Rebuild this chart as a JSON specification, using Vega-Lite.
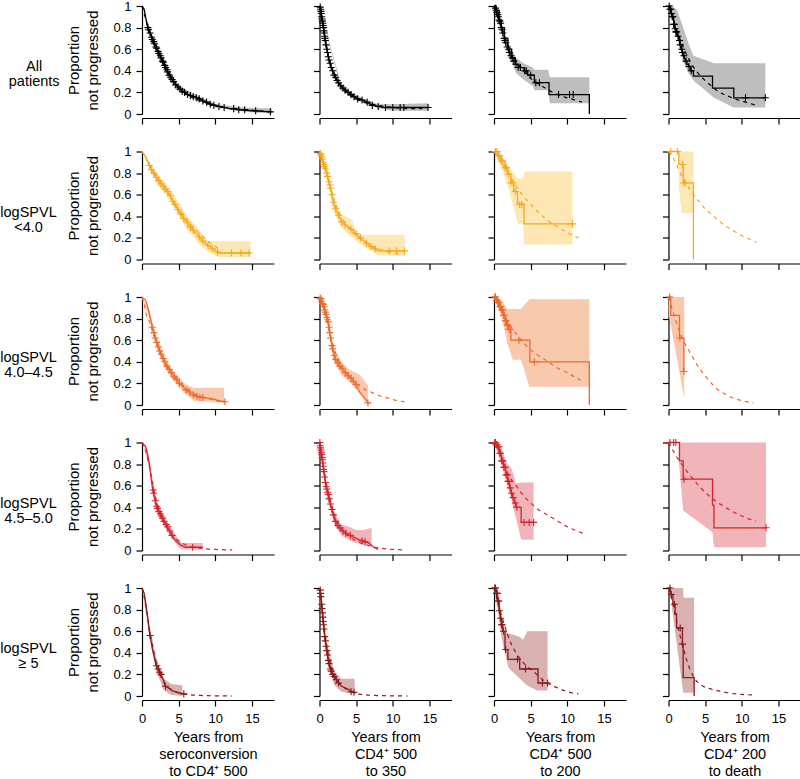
{
"$schema":"https://vega.github.io/schema/vega-lite/v6.json",
"padding":{"left":0,"top":0,"right":0,"bottom":0},
"config":{
"font":"Liberation Sans",
"view":{"stroke":null},
"axis":{"grid":false,"domainColor":"#000","tickColor":"#000","labelColor":"#000","titleColor":"#000","tickSize":6,"domainWidth":1.2,"tickWidth":1.2,"labelFontSize":13,"titleFontSize":14.5,"titleFontWeight":"normal","labelFont":"Liberation Sans","titleFont":"Liberation Sans","labelFlush":false},
"axisX":{"offset":4,"tickCount":4,"labelPadding":6,"titlePadding":5,"titleLineHeight":17},
"axisY":{"tickCount":5,"labelPadding":5,"titlePadding":12,"titleLineHeight":19,"titleFontSize":15},
"title":{"orient":"left","angle":0,"baseline":"middle","align":"center","anchor":"middle","frame":"group","offset":-18,"fontSize":14.5,"fontWeight":"normal","lineHeight":15,"color":"#000","font":"Liberation Sans"}
},
"datasets":{
"d":[
{"g":"A","p":1,"k":"k","t":0,"s":1},{"g":"A","p":1,"k":"k","t":0.3,"s":0.97},{"g":"A","p":1,"k":"k","t":0.7,"s":0.82},{"g":"A","p":1,"k":"k","t":1,"s":0.76},{"g":"A","p":1,"k":"k","t":1.5,"s":0.67},{"g":"A","p":1,"k":"k","t":2.2,"s":0.58},{"g":"A","p":1,"k":"k","t":3,"s":0.46},{"g":"A","p":1,"k":"k","t":3.7,"s":0.36},{"g":"A","p":1,"k":"k","t":4.3,"s":0.3},{"g":"A","p":1,"k":"k","t":5,"s":0.24},{"g":"A","p":1,"k":"k","t":6,"s":0.19},{"g":"A","p":1,"k":"k","t":7,"s":0.16},{"g":"A","p":1,"k":"k","t":7.8,"s":0.14},{"g":"A","p":1,"k":"k","t":9,"s":0.1},{"g":"A","p":1,"k":"k","t":10.5,"s":0.07},{"g":"A","p":1,"k":"k","t":12,"s":0.05},{"g":"A","p":1,"k":"k","t":13.2,"s":0.04},{"g":"A","p":1,"k":"k","t":15,"s":0.03},{"g":"A","p":1,"k":"k","t":17.7,"s":0.02},
{"g":"A","p":1,"k":"b","t":0,"s":1,"hi":1},{"g":"A","p":1,"k":"b","t":2,"s":0.55,"hi":0.61},{"g":"A","p":1,"k":"b","t":5,"s":0.22,"hi":0.26},{"g":"A","p":1,"k":"b","t":10,"s":0.06,"hi":0.09},{"g":"A","p":1,"k":"b","t":14,"s":0.02,"hi":0.06},{"g":"A","p":1,"k":"b","t":17.7,"s":0.005,"hi":0.05},
{"g":"A","p":1,"k":"m","t":0,"s":1},{"g":"A","p":1,"k":"m","t":0.5,"s":0.88},{"g":"A","p":1,"k":"m","t":1,"s":0.77},{"g":"A","p":1,"k":"m","t":2,"s":0.6},{"g":"A","p":1,"k":"m","t":3,"s":0.46},{"g":"A","p":1,"k":"m","t":4,"s":0.34},{"g":"A","p":1,"k":"m","t":5,"s":0.25},{"g":"A","p":1,"k":"m","t":6,"s":0.19},{"g":"A","p":1,"k":"m","t":8,"s":0.12},{"g":"A","p":1,"k":"m","t":10,"s":0.08},{"g":"A","p":1,"k":"m","t":12,"s":0.05},{"g":"A","p":1,"k":"m","t":14,"s":0.04},{"g":"A","p":1,"k":"m","t":17,"s":0.025},
{"g":"A","p":1,"k":"c","t":0.8,"s":0.8},{"g":"A","p":1,"k":"c","t":0.9,"s":0.78},{"g":"A","p":1,"k":"c","t":1.1,"s":0.75},{"g":"A","p":1,"k":"c","t":1.3,"s":0.71},{"g":"A","p":1,"k":"c","t":1.4,"s":0.69},{"g":"A","p":1,"k":"c","t":1.6,"s":0.67},{"g":"A","p":1,"k":"c","t":1.7,"s":0.65},{"g":"A","p":1,"k":"c","t":1.9,"s":0.62},{"g":"A","p":1,"k":"c","t":2,"s":0.61},{"g":"A","p":1,"k":"c","t":2.2,"s":0.58},{"g":"A","p":1,"k":"c","t":2.3,"s":0.56},{"g":"A","p":1,"k":"c","t":2.5,"s":0.54},{"g":"A","p":1,"k":"c","t":2.6,"s":0.52},{"g":"A","p":1,"k":"c","t":2.8,"s":0.49},{"g":"A","p":1,"k":"c","t":2.9,"s":0.48},{"g":"A","p":1,"k":"c","t":3.1,"s":0.45},{"g":"A","p":1,"k":"c","t":3.2,"s":0.43},{"g":"A","p":1,"k":"c","t":3.4,"s":0.41},{"g":"A","p":1,"k":"c","t":3.5,"s":0.39},{"g":"A","p":1,"k":"c","t":3.7,"s":0.36},{"g":"A","p":1,"k":"c","t":3.9,"s":0.34},{"g":"A","p":1,"k":"c","t":4.1,"s":0.32},{"g":"A","p":1,"k":"c","t":4.3,"s":0.3},{"g":"A","p":1,"k":"c","t":4.6,"s":0.27},{"g":"A","p":1,"k":"c","t":4.9,"s":0.25},{"g":"A","p":1,"k":"c","t":5.2,"s":0.23},{"g":"A","p":1,"k":"c","t":5.5,"s":0.21},{"g":"A","p":1,"k":"c","t":5.8,"s":0.2},{"g":"A","p":1,"k":"c","t":6.2,"s":0.18},{"g":"A","p":1,"k":"c","t":6.6,"s":0.17},{"g":"A","p":1,"k":"c","t":7,"s":0.16},{"g":"A","p":1,"k":"c","t":7.4,"s":0.15},{"g":"A","p":1,"k":"c","t":7.8,"s":0.14},{"g":"A","p":1,"k":"c","t":8.3,"s":0.12},{"g":"A","p":1,"k":"c","t":8.8,"s":0.11},{"g":"A","p":1,"k":"c","t":9.3,"s":0.09},{"g":"A","p":1,"k":"c","t":9.8,"s":0.08},{"g":"A","p":1,"k":"c","t":10.5,"s":0.07},{"g":"A","p":1,"k":"c","t":11.2,"s":0.06},{"g":"A","p":1,"k":"c","t":12.5,"s":0.05},{"g":"A","p":1,"k":"c","t":13.2,"s":0.04},{"g":"A","p":1,"k":"c","t":14,"s":0.04},{"g":"A","p":1,"k":"c","t":15.5,"s":0.03},{"g":"A","p":1,"k":"c","t":17.5,"s":0.02},

{"g":"A","p":2,"k":"k","t":0,"s":1},{"g":"A","p":2,"k":"k","t":0.2,"s":0.95},{"g":"A","p":2,"k":"k","t":0.5,"s":0.82},{"g":"A","p":2,"k":"k","t":0.8,"s":0.68},{"g":"A","p":2,"k":"k","t":1,"s":0.6},{"g":"A","p":2,"k":"k","t":1.3,"s":0.5},{"g":"A","p":2,"k":"k","t":1.6,"s":0.43},{"g":"A","p":2,"k":"k","t":2.1,"s":0.35},{"g":"A","p":2,"k":"k","t":2.6,"s":0.29},{"g":"A","p":2,"k":"k","t":3.2,"s":0.24},{"g":"A","p":2,"k":"k","t":3.9,"s":0.2},{"g":"A","p":2,"k":"k","t":5,"s":0.15},{"g":"A","p":2,"k":"k","t":6.2,"s":0.12},{"g":"A","p":2,"k":"k","t":7,"s":0.09},{"g":"A","p":2,"k":"k","t":8,"s":0.07},{"g":"A","p":2,"k":"k","t":9,"s":0.06},{"g":"A","p":2,"k":"k","t":14.8,"s":0.06},
{"g":"A","p":2,"k":"b","t":0,"s":1,"hi":1},{"g":"A","p":2,"k":"b","t":3,"s":0.22,"hi":0.26},{"g":"A","p":2,"k":"b","t":6,"s":0.1,"hi":0.14},{"g":"A","p":2,"k":"b","t":8,"s":0.05,"hi":0.09},{"g":"A","p":2,"k":"b","t":10,"s":0.03,"hi":0.09},{"g":"A","p":2,"k":"b","t":14.8,"s":0.03,"hi":0.1},
{"g":"A","p":2,"k":"m","t":0,"s":1},{"g":"A","p":2,"k":"m","t":0.5,"s":0.8},{"g":"A","p":2,"k":"m","t":1,"s":0.6},{"g":"A","p":2,"k":"m","t":1.5,"s":0.46},{"g":"A","p":2,"k":"m","t":2,"s":0.37},{"g":"A","p":2,"k":"m","t":3,"s":0.25},{"g":"A","p":2,"k":"m","t":4,"s":0.18},{"g":"A","p":2,"k":"m","t":5,"s":0.14},{"g":"A","p":2,"k":"m","t":6,"s":0.11},{"g":"A","p":2,"k":"m","t":8,"s":0.08},{"g":"A","p":2,"k":"m","t":10,"s":0.06},{"g":"A","p":2,"k":"m","t":12,"s":0.05},{"g":"A","p":2,"k":"m","t":14,"s":0.05},
{"g":"A","p":2,"k":"c","t":0.1,"s":0.99},{"g":"A","p":2,"k":"c","t":0.15,"s":0.97},{"g":"A","p":2,"k":"c","t":0.2,"s":0.95},{"g":"A","p":2,"k":"c","t":0.25,"s":0.93},{"g":"A","p":2,"k":"c","t":0.3,"s":0.9},{"g":"A","p":2,"k":"c","t":0.35,"s":0.88},{"g":"A","p":2,"k":"c","t":0.4,"s":0.86},{"g":"A","p":2,"k":"c","t":0.45,"s":0.84},{"g":"A","p":2,"k":"c","t":0.5,"s":0.82},{"g":"A","p":2,"k":"c","t":0.55,"s":0.8},{"g":"A","p":2,"k":"c","t":0.6,"s":0.77},{"g":"A","p":2,"k":"c","t":0.65,"s":0.75},{"g":"A","p":2,"k":"c","t":0.7,"s":0.72},{"g":"A","p":2,"k":"c","t":0.75,"s":0.7},{"g":"A","p":2,"k":"c","t":0.8,"s":0.68},{"g":"A","p":2,"k":"c","t":0.9,"s":0.64},{"g":"A","p":2,"k":"c","t":1,"s":0.6},{"g":"A","p":2,"k":"c","t":1.1,"s":0.57},{"g":"A","p":2,"k":"c","t":1.2,"s":0.53},{"g":"A","p":2,"k":"c","t":1.3,"s":0.5},{"g":"A","p":2,"k":"c","t":1.45,"s":0.47},{"g":"A","p":2,"k":"c","t":1.6,"s":0.43},{"g":"A","p":2,"k":"c","t":1.8,"s":0.4},{"g":"A","p":2,"k":"c","t":2,"s":0.36},{"g":"A","p":2,"k":"c","t":2.2,"s":0.34},{"g":"A","p":2,"k":"c","t":2.4,"s":0.31},{"g":"A","p":2,"k":"c","t":2.6,"s":0.29},{"g":"A","p":2,"k":"c","t":2.9,"s":0.26},{"g":"A","p":2,"k":"c","t":3.2,"s":0.24},{"g":"A","p":2,"k":"c","t":3.5,"s":0.22},{"g":"A","p":2,"k":"c","t":3.9,"s":0.2},{"g":"A","p":2,"k":"c","t":4.3,"s":0.18},{"g":"A","p":2,"k":"c","t":4.7,"s":0.16},{"g":"A","p":2,"k":"c","t":5.2,"s":0.14},{"g":"A","p":2,"k":"c","t":5.8,"s":0.13},{"g":"A","p":2,"k":"c","t":6.5,"s":0.11},{"g":"A","p":2,"k":"c","t":7.2,"s":0.08},{"g":"A","p":2,"k":"c","t":8,"s":0.07},{"g":"A","p":2,"k":"c","t":9,"s":0.06},{"g":"A","p":2,"k":"c","t":10,"s":0.06},{"g":"A","p":2,"k":"c","t":11,"s":0.06},{"g":"A","p":2,"k":"c","t":11.5,"s":0.06},{"g":"A","p":2,"k":"c","t":14.8,"s":0.06},

{"g":"A","p":3,"k":"k","t":0,"s":1},{"g":"A","p":3,"k":"k","t":0.3,"s":0.96},{"g":"A","p":3,"k":"k","t":0.7,"s":0.87},{"g":"A","p":3,"k":"k","t":1,"s":0.8},{"g":"A","p":3,"k":"k","t":1.4,"s":0.7},{"g":"A","p":3,"k":"k","t":1.9,"s":0.6},{"g":"A","p":3,"k":"k","t":2.4,"s":0.52},{"g":"A","p":3,"k":"k","t":2.9,"s":0.46},{"g":"A","p":3,"k":"k","t":3.3,"s":0.43},{"g":"A","p":3,"k":"k","t":4.1,"s":0.4},{"g":"A","p":3,"k":"k","t":4.6,"s":0.36},{"g":"A","p":3,"k":"k","t":5.5,"s":0.29},{"g":"A","p":3,"k":"k","t":7.5,"s":0.18},{"g":"A","p":3,"k":"k","t":13,"s":0},
{"g":"A","p":3,"k":"b","t":0,"s":1,"hi":1},{"g":"A","p":3,"k":"b","t":1,"s":0.76,"hi":0.84},{"g":"A","p":3,"k":"b","t":2,"s":0.54,"hi":0.65},{"g":"A","p":3,"k":"b","t":3,"s":0.38,"hi":0.52},{"g":"A","p":3,"k":"b","t":4,"s":0.32,"hi":0.47},{"g":"A","p":3,"k":"b","t":5.3,"s":0.26,"hi":0.43},{"g":"A","p":3,"k":"b","t":5.5,"s":0.22,"hi":0.41},{"g":"A","p":3,"k":"b","t":7.4,"s":0.22,"hi":0.41},{"g":"A","p":3,"k":"b","t":7.6,"s":0.1,"hi":0.34},{"g":"A","p":3,"k":"b","t":13,"s":0.1,"hi":0.34},
{"g":"A","p":3,"k":"m","t":0,"s":1},{"g":"A","p":3,"k":"m","t":1,"s":0.8},{"g":"A","p":3,"k":"m","t":2,"s":0.62},{"g":"A","p":3,"k":"m","t":3,"s":0.49},{"g":"A","p":3,"k":"m","t":4,"s":0.4},{"g":"A","p":3,"k":"m","t":5,"s":0.33},{"g":"A","p":3,"k":"m","t":6,"s":0.28},{"g":"A","p":3,"k":"m","t":7,"s":0.24},{"g":"A","p":3,"k":"m","t":8,"s":0.2},{"g":"A","p":3,"k":"m","t":9,"s":0.17},{"g":"A","p":3,"k":"m","t":10,"s":0.15},{"g":"A","p":3,"k":"m","t":11,"s":0.13},{"g":"A","p":3,"k":"m","t":12,"s":0.11},
{"g":"A","p":3,"k":"c","t":0.2,"s":0.98},{"g":"A","p":3,"k":"c","t":0.3,"s":0.96},{"g":"A","p":3,"k":"c","t":0.4,"s":0.94},{"g":"A","p":3,"k":"c","t":0.5,"s":0.92},{"g":"A","p":3,"k":"c","t":0.6,"s":0.9},{"g":"A","p":3,"k":"c","t":0.7,"s":0.87},{"g":"A","p":3,"k":"c","t":0.8,"s":0.86},{"g":"A","p":3,"k":"c","t":0.9,"s":0.84},{"g":"A","p":3,"k":"c","t":1,"s":0.8},{"g":"A","p":3,"k":"c","t":1.1,"s":0.78},{"g":"A","p":3,"k":"c","t":1.2,"s":0.75},{"g":"A","p":3,"k":"c","t":1.4,"s":0.7},{"g":"A","p":3,"k":"c","t":1.5,"s":0.68},{"g":"A","p":3,"k":"c","t":1.6,"s":0.66},{"g":"A","p":3,"k":"c","t":1.8,"s":0.62},{"g":"A","p":3,"k":"c","t":2,"s":0.6},{"g":"A","p":3,"k":"c","t":2.1,"s":0.57},{"g":"A","p":3,"k":"c","t":2.3,"s":0.54},{"g":"A","p":3,"k":"c","t":2.5,"s":0.52},{"g":"A","p":3,"k":"c","t":2.7,"s":0.49},{"g":"A","p":3,"k":"c","t":3,"s":0.46},{"g":"A","p":3,"k":"c","t":3.3,"s":0.43},{"g":"A","p":3,"k":"c","t":3.6,"s":0.43},{"g":"A","p":3,"k":"c","t":4.2,"s":0.4},{"g":"A","p":3,"k":"c","t":4.4,"s":0.4},{"g":"A","p":3,"k":"c","t":5,"s":0.36},{"g":"A","p":3,"k":"c","t":5.7,"s":0.29},{"g":"A","p":3,"k":"c","t":6.2,"s":0.29},{"g":"A","p":3,"k":"c","t":8.8,"s":0.18},{"g":"A","p":3,"k":"c","t":10.3,"s":0.18},{"g":"A","p":3,"k":"c","t":10.8,"s":0.18},

{"g":"A","p":4,"k":"k","t":0,"s":1},{"g":"A","p":4,"k":"k","t":0.2,"s":0.97},{"g":"A","p":4,"k":"k","t":0.4,"s":0.93},{"g":"A","p":4,"k":"k","t":0.5,"s":0.9},{"g":"A","p":4,"k":"k","t":0.7,"s":0.83},{"g":"A","p":4,"k":"k","t":0.85,"s":0.79},{"g":"A","p":4,"k":"k","t":1,"s":0.76},{"g":"A","p":4,"k":"k","t":1.2,"s":0.72},{"g":"A","p":4,"k":"k","t":1.4,"s":0.68},{"g":"A","p":4,"k":"k","t":1.55,"s":0.64},{"g":"A","p":4,"k":"k","t":1.7,"s":0.6},{"g":"A","p":4,"k":"k","t":1.85,"s":0.57},{"g":"A","p":4,"k":"k","t":2,"s":0.54},{"g":"A","p":4,"k":"k","t":2.15,"s":0.51},{"g":"A","p":4,"k":"k","t":2.3,"s":0.49},{"g":"A","p":4,"k":"k","t":2.5,"s":0.46},{"g":"A","p":4,"k":"k","t":2.7,"s":0.44},{"g":"A","p":4,"k":"k","t":3,"s":0.4},{"g":"A","p":4,"k":"k","t":3.4,"s":0.35},{"g":"A","p":4,"k":"k","t":6,"s":0.24},{"g":"A","p":4,"k":"k","t":8.9,"s":0.15},{"g":"A","p":4,"k":"k","t":13.2,"s":0.15},
{"g":"A","p":4,"k":"b","t":0,"s":1,"hi":1},{"g":"A","p":4,"k":"b","t":0.5,"s":0.88,"hi":1},{"g":"A","p":4,"k":"b","t":1.2,"s":0.72,"hi":0.96},{"g":"A","p":4,"k":"b","t":2,"s":0.48,"hi":0.8},{"g":"A","p":4,"k":"b","t":2.8,"s":0.37,"hi":0.64},{"g":"A","p":4,"k":"b","t":3.4,"s":0.31,"hi":0.54},{"g":"A","p":4,"k":"b","t":6.2,"s":0.15,"hi":0.47},{"g":"A","p":4,"k":"b","t":8.9,"s":0.06,"hi":0.47},{"g":"A","p":4,"k":"b","t":13.2,"s":0.06,"hi":0.47},
{"g":"A","p":4,"k":"m","t":0,"s":1},{"g":"A","p":4,"k":"m","t":1,"s":0.8},{"g":"A","p":4,"k":"m","t":2,"s":0.62},{"g":"A","p":4,"k":"m","t":3,"s":0.48},{"g":"A","p":4,"k":"m","t":4,"s":0.38},{"g":"A","p":4,"k":"m","t":5,"s":0.31},{"g":"A","p":4,"k":"m","t":6,"s":0.25},{"g":"A","p":4,"k":"m","t":7,"s":0.2},{"g":"A","p":4,"k":"m","t":8,"s":0.17},{"g":"A","p":4,"k":"m","t":9,"s":0.14},{"g":"A","p":4,"k":"m","t":10,"s":0.12},{"g":"A","p":4,"k":"m","t":11,"s":0.1},{"g":"A","p":4,"k":"m","t":12,"s":0.08},
{"g":"A","p":4,"k":"c","t":0.1,"s":1},{"g":"A","p":4,"k":"c","t":0.2,"s":0.97},{"g":"A","p":4,"k":"c","t":0.3,"s":0.97},{"g":"A","p":4,"k":"c","t":0.4,"s":0.93},{"g":"A","p":4,"k":"c","t":0.5,"s":0.9},{"g":"A","p":4,"k":"c","t":0.6,"s":0.9},{"g":"A","p":4,"k":"c","t":0.7,"s":0.83},{"g":"A","p":4,"k":"c","t":0.8,"s":0.83},{"g":"A","p":4,"k":"c","t":0.9,"s":0.79},{"g":"A","p":4,"k":"c","t":1,"s":0.76},{"g":"A","p":4,"k":"c","t":1.1,"s":0.76},{"g":"A","p":4,"k":"c","t":1.3,"s":0.72},{"g":"A","p":4,"k":"c","t":1.5,"s":0.68},{"g":"A","p":4,"k":"c","t":1.6,"s":0.64},{"g":"A","p":4,"k":"c","t":1.8,"s":0.6},{"g":"A","p":4,"k":"c","t":1.9,"s":0.57},{"g":"A","p":4,"k":"c","t":2.1,"s":0.54},{"g":"A","p":4,"k":"c","t":2.4,"s":0.49},{"g":"A","p":4,"k":"c","t":2.8,"s":0.44},{"g":"A","p":4,"k":"c","t":3.1,"s":0.4},{"g":"A","p":4,"k":"c","t":10.5,"s":0.15},{"g":"A","p":4,"k":"c","t":13.2,"s":0.15},

{"g":"B","p":1,"k":"k","t":0,"s":1},{"g":"B","p":1,"k":"k","t":0.5,"s":0.95},{"g":"B","p":1,"k":"k","t":1,"s":0.87},{"g":"B","p":1,"k":"k","t":1.5,"s":0.81},{"g":"B","p":1,"k":"k","t":2.3,"s":0.73},{"g":"B","p":1,"k":"k","t":3,"s":0.67},{"g":"B","p":1,"k":"k","t":3.7,"s":0.61},{"g":"B","p":1,"k":"k","t":4.3,"s":0.53},{"g":"B","p":1,"k":"k","t":5,"s":0.45},{"g":"B","p":1,"k":"k","t":5.7,"s":0.38},{"g":"B","p":1,"k":"k","t":6.4,"s":0.32},{"g":"B","p":1,"k":"k","t":7.1,"s":0.26},{"g":"B","p":1,"k":"k","t":7.8,"s":0.21},{"g":"B","p":1,"k":"k","t":8.5,"s":0.16},{"g":"B","p":1,"k":"k","t":9.1,"s":0.13},{"g":"B","p":1,"k":"k","t":9.8,"s":0.09},{"g":"B","p":1,"k":"k","t":10.5,"s":0.06},{"g":"B","p":1,"k":"k","t":14.8,"s":0.06},
{"g":"B","p":1,"k":"b","t":0,"s":1,"hi":1},{"g":"B","p":1,"k":"b","t":2,"s":0.7,"hi":0.8},{"g":"B","p":1,"k":"b","t":4,"s":0.53,"hi":0.64},{"g":"B","p":1,"k":"b","t":6,"s":0.29,"hi":0.42},{"g":"B","p":1,"k":"b","t":8,"s":0.13,"hi":0.26},{"g":"B","p":1,"k":"b","t":8.5,"s":0.1,"hi":0.2},{"g":"B","p":1,"k":"b","t":9,"s":0.07,"hi":0.17},{"g":"B","p":1,"k":"b","t":10.5,"s":0.02,"hi":0.17},{"g":"B","p":1,"k":"b","t":14.8,"s":0.02,"hi":0.17},
{"g":"B","p":1,"k":"m","t":0,"s":1},{"g":"B","p":1,"k":"m","t":1,"s":0.88},{"g":"B","p":1,"k":"m","t":2,"s":0.77},{"g":"B","p":1,"k":"m","t":3,"s":0.67},{"g":"B","p":1,"k":"m","t":4,"s":0.57},{"g":"B","p":1,"k":"m","t":5,"s":0.47},{"g":"B","p":1,"k":"m","t":6,"s":0.38},{"g":"B","p":1,"k":"m","t":7,"s":0.3},{"g":"B","p":1,"k":"m","t":8,"s":0.23},{"g":"B","p":1,"k":"m","t":9,"s":0.17},{"g":"B","p":1,"k":"m","t":10,"s":0.12},{"g":"B","p":1,"k":"m","t":11,"s":0.09},
{"g":"B","p":1,"k":"c","t":1,"s":0.87},{"g":"B","p":1,"k":"c","t":1.3,"s":0.83},{"g":"B","p":1,"k":"c","t":1.6,"s":0.8},{"g":"B","p":1,"k":"c","t":2,"s":0.76},{"g":"B","p":1,"k":"c","t":2.3,"s":0.73},{"g":"B","p":1,"k":"c","t":2.6,"s":0.7},{"g":"B","p":1,"k":"c","t":2.9,"s":0.68},{"g":"B","p":1,"k":"c","t":3.2,"s":0.65},{"g":"B","p":1,"k":"c","t":3.5,"s":0.63},{"g":"B","p":1,"k":"c","t":3.9,"s":0.59},{"g":"B","p":1,"k":"c","t":4.2,"s":0.54},{"g":"B","p":1,"k":"c","t":4.5,"s":0.51},{"g":"B","p":1,"k":"c","t":4.9,"s":0.46},{"g":"B","p":1,"k":"c","t":5.3,"s":0.42},{"g":"B","p":1,"k":"c","t":5.7,"s":0.38},{"g":"B","p":1,"k":"c","t":6.2,"s":0.34},{"g":"B","p":1,"k":"c","t":6.6,"s":0.3},{"g":"B","p":1,"k":"c","t":7,"s":0.27},{"g":"B","p":1,"k":"c","t":7.8,"s":0.21},{"g":"B","p":1,"k":"c","t":8.3,"s":0.17},{"g":"B","p":1,"k":"c","t":9,"s":0.13},{"g":"B","p":1,"k":"c","t":9.6,"s":0.1},{"g":"B","p":1,"k":"c","t":10.3,"s":0.07},{"g":"B","p":1,"k":"c","t":12.2,"s":0.06},{"g":"B","p":1,"k":"c","t":13.5,"s":0.06},{"g":"B","p":1,"k":"c","t":14.6,"s":0.06},

{"g":"B","p":2,"k":"k","t":0,"s":1},{"g":"B","p":2,"k":"k","t":0.3,"s":0.95},{"g":"B","p":2,"k":"k","t":0.6,"s":0.88},{"g":"B","p":2,"k":"k","t":1,"s":0.8},{"g":"B","p":2,"k":"k","t":1.3,"s":0.72},{"g":"B","p":2,"k":"k","t":1.6,"s":0.63},{"g":"B","p":2,"k":"k","t":2,"s":0.5},{"g":"B","p":2,"k":"k","t":2.5,"s":0.42},{"g":"B","p":2,"k":"k","t":3,"s":0.35},{"g":"B","p":2,"k":"k","t":3.7,"s":0.31},{"g":"B","p":2,"k":"k","t":4.4,"s":0.28},{"g":"B","p":2,"k":"k","t":5,"s":0.24},{"g":"B","p":2,"k":"k","t":5.7,"s":0.19},{"g":"B","p":2,"k":"k","t":6.5,"s":0.15},{"g":"B","p":2,"k":"k","t":7.2,"s":0.11},{"g":"B","p":2,"k":"k","t":8,"s":0.08},{"g":"B","p":2,"k":"k","t":11.6,"s":0.08},
{"g":"B","p":2,"k":"b","t":0,"s":1,"hi":1},{"g":"B","p":2,"k":"b","t":1,"s":0.76,"hi":0.86},{"g":"B","p":2,"k":"b","t":2,"s":0.43,"hi":0.56},{"g":"B","p":2,"k":"b","t":3,"s":0.29,"hi":0.42},{"g":"B","p":2,"k":"b","t":4.5,"s":0.2,"hi":0.36},{"g":"B","p":2,"k":"b","t":5,"s":0.17,"hi":0.23},{"g":"B","p":2,"k":"b","t":8,"s":0.04,"hi":0.23},{"g":"B","p":2,"k":"b","t":11.6,"s":0.03,"hi":0.23},
{"g":"B","p":2,"k":"m","t":0,"s":1},{"g":"B","p":2,"k":"m","t":0.5,"s":0.9},{"g":"B","p":2,"k":"m","t":1,"s":0.78},{"g":"B","p":2,"k":"m","t":1.5,"s":0.66},{"g":"B","p":2,"k":"m","t":2,"s":0.55},{"g":"B","p":2,"k":"m","t":2.5,"s":0.46},{"g":"B","p":2,"k":"m","t":3,"s":0.39},{"g":"B","p":2,"k":"m","t":4,"s":0.29},{"g":"B","p":2,"k":"m","t":5,"s":0.22},{"g":"B","p":2,"k":"m","t":6,"s":0.17},{"g":"B","p":2,"k":"m","t":7,"s":0.13},{"g":"B","p":2,"k":"m","t":8,"s":0.1},{"g":"B","p":2,"k":"m","t":9,"s":0.08},{"g":"B","p":2,"k":"m","t":10,"s":0.06},{"g":"B","p":2,"k":"m","t":11,"s":0.05},
{"g":"B","p":2,"k":"c","t":0.1,"s":0.98},{"g":"B","p":2,"k":"c","t":0.2,"s":0.97},{"g":"B","p":2,"k":"c","t":0.3,"s":0.95},{"g":"B","p":2,"k":"c","t":0.4,"s":0.93},{"g":"B","p":2,"k":"c","t":0.5,"s":0.9},{"g":"B","p":2,"k":"c","t":0.6,"s":0.88},{"g":"B","p":2,"k":"c","t":0.7,"s":0.86},{"g":"B","p":2,"k":"c","t":0.8,"s":0.84},{"g":"B","p":2,"k":"c","t":1,"s":0.8},{"g":"B","p":2,"k":"c","t":1.1,"s":0.77},{"g":"B","p":2,"k":"c","t":1.3,"s":0.72},{"g":"B","p":2,"k":"c","t":1.4,"s":0.69},{"g":"B","p":2,"k":"c","t":1.5,"s":0.66},{"g":"B","p":2,"k":"c","t":1.7,"s":0.6},{"g":"B","p":2,"k":"c","t":1.9,"s":0.53},{"g":"B","p":2,"k":"c","t":2.2,"s":0.47},{"g":"B","p":2,"k":"c","t":2.6,"s":0.41},{"g":"B","p":2,"k":"c","t":3,"s":0.35},{"g":"B","p":2,"k":"c","t":3.5,"s":0.32},{"g":"B","p":2,"k":"c","t":4.3,"s":0.28},{"g":"B","p":2,"k":"c","t":5,"s":0.24},{"g":"B","p":2,"k":"c","t":5.6,"s":0.2},{"g":"B","p":2,"k":"c","t":6.4,"s":0.15},{"g":"B","p":2,"k":"c","t":7,"s":0.12},{"g":"B","p":2,"k":"c","t":7.6,"s":0.1},{"g":"B","p":2,"k":"c","t":9.5,"s":0.08},{"g":"B","p":2,"k":"c","t":10.5,"s":0.08},{"g":"B","p":2,"k":"c","t":11.6,"s":0.08},

{"g":"B","p":3,"k":"k","t":0,"s":1},{"g":"B","p":3,"k":"k","t":0.5,"s":0.96},{"g":"B","p":3,"k":"k","t":1,"s":0.91},{"g":"B","p":3,"k":"k","t":1.5,"s":0.85},{"g":"B","p":3,"k":"k","t":1.9,"s":0.79},{"g":"B","p":3,"k":"k","t":2.3,"s":0.71},{"g":"B","p":3,"k":"k","t":2.7,"s":0.63},{"g":"B","p":3,"k":"k","t":3.2,"s":0.51},{"g":"B","p":3,"k":"k","t":4.1,"s":0.33},{"g":"B","p":3,"k":"k","t":10.7,"s":0.33},
{"g":"B","p":3,"k":"b","t":0,"s":1,"hi":1},{"g":"B","p":3,"k":"b","t":1,"s":0.85,"hi":0.97},{"g":"B","p":3,"k":"b","t":2,"s":0.65,"hi":0.86},{"g":"B","p":3,"k":"b","t":3,"s":0.4,"hi":0.77},{"g":"B","p":3,"k":"b","t":3.2,"s":0.33,"hi":0.75},{"g":"B","p":3,"k":"b","t":4,"s":0.33,"hi":0.75},{"g":"B","p":3,"k":"b","t":4.1,"s":0.14,"hi":0.815},{"g":"B","p":3,"k":"b","t":10.7,"s":0.14,"hi":0.815},
{"g":"B","p":3,"k":"m","t":0,"s":1},{"g":"B","p":3,"k":"m","t":1,"s":0.9},{"g":"B","p":3,"k":"m","t":2,"s":0.79},{"g":"B","p":3,"k":"m","t":3,"s":0.68},{"g":"B","p":3,"k":"m","t":4,"s":0.59},{"g":"B","p":3,"k":"m","t":5,"s":0.51},{"g":"B","p":3,"k":"m","t":6,"s":0.44},{"g":"B","p":3,"k":"m","t":7,"s":0.38},{"g":"B","p":3,"k":"m","t":8,"s":0.33},{"g":"B","p":3,"k":"m","t":9,"s":0.29},{"g":"B","p":3,"k":"m","t":10,"s":0.25},{"g":"B","p":3,"k":"m","t":11.5,"s":0.2},
{"g":"B","p":3,"k":"c","t":0.2,"s":1},{"g":"B","p":3,"k":"c","t":0.4,"s":1},{"g":"B","p":3,"k":"c","t":0.6,"s":0.96},{"g":"B","p":3,"k":"c","t":0.8,"s":0.96},{"g":"B","p":3,"k":"c","t":1,"s":0.91},{"g":"B","p":3,"k":"c","t":1.2,"s":0.91},{"g":"B","p":3,"k":"c","t":1.5,"s":0.85},{"g":"B","p":3,"k":"c","t":1.7,"s":0.85},{"g":"B","p":3,"k":"c","t":2,"s":0.79},{"g":"B","p":3,"k":"c","t":2.3,"s":0.71},{"g":"B","p":3,"k":"c","t":2.6,"s":0.71},{"g":"B","p":3,"k":"c","t":2.9,"s":0.63},{"g":"B","p":3,"k":"c","t":3.5,"s":0.51},{"g":"B","p":3,"k":"c","t":3.8,"s":0.51},{"g":"B","p":3,"k":"c","t":10.7,"s":0.33},

{"g":"B","p":4,"k":"k","t":0,"s":1},{"g":"B","p":4,"k":"k","t":1.4,"s":0.88},{"g":"B","p":4,"k":"k","t":2,"s":0.71},{"g":"B","p":4,"k":"k","t":3.4,"s":0},
{"g":"B","p":4,"k":"b","t":1.4,"s":0.69,"hi":1},{"g":"B","p":4,"k":"b","t":1.8,"s":0.43,"hi":1},{"g":"B","p":4,"k":"b","t":3.4,"s":0.43,"hi":1},
{"g":"B","p":4,"k":"m","t":0,"s":1},{"g":"B","p":4,"k":"m","t":0.5,"s":0.96},{"g":"B","p":4,"k":"m","t":1,"s":0.89},{"g":"B","p":4,"k":"m","t":2,"s":0.75},{"g":"B","p":4,"k":"m","t":3,"s":0.64},{"g":"B","p":4,"k":"m","t":4,"s":0.55},{"g":"B","p":4,"k":"m","t":5,"s":0.47},{"g":"B","p":4,"k":"m","t":6,"s":0.41},{"g":"B","p":4,"k":"m","t":7,"s":0.35},{"g":"B","p":4,"k":"m","t":8,"s":0.3},{"g":"B","p":4,"k":"m","t":9,"s":0.26},{"g":"B","p":4,"k":"m","t":10,"s":0.22},{"g":"B","p":4,"k":"m","t":11,"s":0.19},{"g":"B","p":4,"k":"m","t":12,"s":0.16},
{"g":"B","p":4,"k":"c","t":0.3,"s":1},{"g":"B","p":4,"k":"c","t":1.2,"s":1},{"g":"B","p":4,"k":"c","t":1.9,"s":0.88},{"g":"B","p":4,"k":"c","t":2.1,"s":0.71},{"g":"B","p":4,"k":"c","t":2.3,"s":0.71},

{"g":"C","p":1,"k":"k","t":0,"s":1},{"g":"C","p":1,"k":"k","t":0.5,"s":0.97},{"g":"C","p":1,"k":"k","t":1,"s":0.85},{"g":"C","p":1,"k":"k","t":1.4,"s":0.72},{"g":"C","p":1,"k":"k","t":1.9,"s":0.6},{"g":"C","p":1,"k":"k","t":2.3,"s":0.52},{"g":"C","p":1,"k":"k","t":2.8,"s":0.44},{"g":"C","p":1,"k":"k","t":3.2,"s":0.38},{"g":"C","p":1,"k":"k","t":3.8,"s":0.32},{"g":"C","p":1,"k":"k","t":4.4,"s":0.26},{"g":"C","p":1,"k":"k","t":5,"s":0.21},{"g":"C","p":1,"k":"k","t":5.7,"s":0.16},{"g":"C","p":1,"k":"k","t":6.4,"s":0.12},{"g":"C","p":1,"k":"k","t":7.1,"s":0.09},{"g":"C","p":1,"k":"k","t":7.8,"s":0.07},{"g":"C","p":1,"k":"k","t":9.5,"s":0.06},{"g":"C","p":1,"k":"k","t":10.5,"s":0.04},{"g":"C","p":1,"k":"k","t":11.4,"s":0.03},
{"g":"C","p":1,"k":"b","t":0,"s":1,"hi":1},{"g":"C","p":1,"k":"b","t":1,"s":0.8,"hi":0.87},{"g":"C","p":1,"k":"b","t":2,"s":0.54,"hi":0.63},{"g":"C","p":1,"k":"b","t":3,"s":0.36,"hi":0.46},{"g":"C","p":1,"k":"b","t":4,"s":0.25,"hi":0.34},{"g":"C","p":1,"k":"b","t":5,"s":0.17,"hi":0.26},{"g":"C","p":1,"k":"b","t":6,"s":0.1,"hi":0.19},{"g":"C","p":1,"k":"b","t":7,"s":0.04,"hi":0.16},{"g":"C","p":1,"k":"b","t":11.2,"s":0.02,"hi":0.16},
{"g":"C","p":1,"k":"m","t":0,"s":1},{"g":"C","p":1,"k":"m","t":0.3,"s":0.93},{"g":"C","p":1,"k":"m","t":0.5,"s":0.86},{"g":"C","p":1,"k":"m","t":1,"s":0.77},{"g":"C","p":1,"k":"m","t":1.5,"s":0.67},{"g":"C","p":1,"k":"m","t":2,"s":0.57},{"g":"C","p":1,"k":"m","t":2.5,"s":0.48},{"g":"C","p":1,"k":"m","t":3,"s":0.41},{"g":"C","p":1,"k":"m","t":4,"s":0.3},{"g":"C","p":1,"k":"m","t":5,"s":0.22},{"g":"C","p":1,"k":"m","t":6,"s":0.16},{"g":"C","p":1,"k":"m","t":7,"s":0.11},{"g":"C","p":1,"k":"m","t":8,"s":0.08},{"g":"C","p":1,"k":"m","t":9,"s":0.06},{"g":"C","p":1,"k":"m","t":10,"s":0.04},{"g":"C","p":1,"k":"m","t":11,"s":0.03},
{"g":"C","p":1,"k":"c","t":1.4,"s":0.72},{"g":"C","p":1,"k":"c","t":1.6,"s":0.67},{"g":"C","p":1,"k":"c","t":1.8,"s":0.62},{"g":"C","p":1,"k":"c","t":2,"s":0.58},{"g":"C","p":1,"k":"c","t":2.2,"s":0.54},{"g":"C","p":1,"k":"c","t":2.4,"s":0.5},{"g":"C","p":1,"k":"c","t":2.6,"s":0.47},{"g":"C","p":1,"k":"c","t":2.9,"s":0.43},{"g":"C","p":1,"k":"c","t":3.1,"s":0.4},{"g":"C","p":1,"k":"c","t":3.4,"s":0.36},{"g":"C","p":1,"k":"c","t":3.7,"s":0.33},{"g":"C","p":1,"k":"c","t":4,"s":0.3},{"g":"C","p":1,"k":"c","t":4.4,"s":0.26},{"g":"C","p":1,"k":"c","t":4.7,"s":0.24},{"g":"C","p":1,"k":"c","t":5.1,"s":0.2},{"g":"C","p":1,"k":"c","t":6,"s":0.14},{"g":"C","p":1,"k":"c","t":6.5,"s":0.12},{"g":"C","p":1,"k":"c","t":7,"s":0.09},{"g":"C","p":1,"k":"c","t":7.5,"s":0.08},{"g":"C","p":1,"k":"c","t":7.9,"s":0.07},{"g":"C","p":1,"k":"c","t":8.3,"s":0.07},{"g":"C","p":1,"k":"c","t":11.3,"s":0.03},

{"g":"C","p":2,"k":"k","t":0,"s":1},{"g":"C","p":2,"k":"k","t":0.5,"s":0.93},{"g":"C","p":2,"k":"k","t":0.8,"s":0.86},{"g":"C","p":2,"k":"k","t":1.2,"s":0.77},{"g":"C","p":2,"k":"k","t":1.6,"s":0.58},{"g":"C","p":2,"k":"k","t":2.1,"s":0.43},{"g":"C","p":2,"k":"k","t":2.7,"s":0.36},{"g":"C","p":2,"k":"k","t":3.4,"s":0.31},{"g":"C","p":2,"k":"k","t":4.1,"s":0.26},{"g":"C","p":2,"k":"k","t":4.8,"s":0.21},{"g":"C","p":2,"k":"k","t":5.5,"s":0.12},{"g":"C","p":2,"k":"k","t":6.2,"s":0.06},{"g":"C","p":2,"k":"k","t":6.7,"s":0.01},
{"g":"C","p":2,"k":"b","t":0,"s":1,"hi":1},{"g":"C","p":2,"k":"b","t":1,"s":0.77,"hi":0.86},{"g":"C","p":2,"k":"b","t":2,"s":0.4,"hi":0.52},{"g":"C","p":2,"k":"b","t":3,"s":0.28,"hi":0.4},{"g":"C","p":2,"k":"b","t":4,"s":0.22,"hi":0.33},{"g":"C","p":2,"k":"b","t":5.5,"s":0.1,"hi":0.28},{"g":"C","p":2,"k":"b","t":6.6,"s":0.01,"hi":0.18},
{"g":"C","p":2,"k":"m","t":0,"s":1},{"g":"C","p":2,"k":"m","t":0.5,"s":0.9},{"g":"C","p":2,"k":"m","t":1,"s":0.78},{"g":"C","p":2,"k":"m","t":1.5,"s":0.64},{"g":"C","p":2,"k":"m","t":2,"s":0.52},{"g":"C","p":2,"k":"m","t":2.5,"s":0.43},{"g":"C","p":2,"k":"m","t":3,"s":0.36},{"g":"C","p":2,"k":"m","t":4,"s":0.27},{"g":"C","p":2,"k":"m","t":5,"s":0.2},{"g":"C","p":2,"k":"m","t":6,"s":0.15},{"g":"C","p":2,"k":"m","t":7,"s":0.12},{"g":"C","p":2,"k":"m","t":8,"s":0.09},{"g":"C","p":2,"k":"m","t":9,"s":0.07},{"g":"C","p":2,"k":"m","t":10,"s":0.05},{"g":"C","p":2,"k":"m","t":11.6,"s":0.03},
{"g":"C","p":2,"k":"c","t":0.1,"s":0.99},{"g":"C","p":2,"k":"c","t":0.2,"s":0.98},{"g":"C","p":2,"k":"c","t":0.3,"s":0.96},{"g":"C","p":2,"k":"c","t":0.4,"s":0.94},{"g":"C","p":2,"k":"c","t":0.5,"s":0.93},{"g":"C","p":2,"k":"c","t":0.6,"s":0.91},{"g":"C","p":2,"k":"c","t":0.7,"s":0.88},{"g":"C","p":2,"k":"c","t":0.8,"s":0.86},{"g":"C","p":2,"k":"c","t":0.9,"s":0.84},{"g":"C","p":2,"k":"c","t":1,"s":0.81},{"g":"C","p":2,"k":"c","t":1.1,"s":0.79},{"g":"C","p":2,"k":"c","t":1.2,"s":0.77},{"g":"C","p":2,"k":"c","t":1.3,"s":0.72},{"g":"C","p":2,"k":"c","t":1.4,"s":0.67},{"g":"C","p":2,"k":"c","t":1.5,"s":0.62},{"g":"C","p":2,"k":"c","t":1.7,"s":0.55},{"g":"C","p":2,"k":"c","t":1.8,"s":0.52},{"g":"C","p":2,"k":"c","t":2,"s":0.46},{"g":"C","p":2,"k":"c","t":2.2,"s":0.42},{"g":"C","p":2,"k":"c","t":2.5,"s":0.39},{"g":"C","p":2,"k":"c","t":2.8,"s":0.36},{"g":"C","p":2,"k":"c","t":3.1,"s":0.34},{"g":"C","p":2,"k":"c","t":3.5,"s":0.3},{"g":"C","p":2,"k":"c","t":3.9,"s":0.27},{"g":"C","p":2,"k":"c","t":4.3,"s":0.25},{"g":"C","p":2,"k":"c","t":4.6,"s":0.22},{"g":"C","p":2,"k":"c","t":5,"s":0.19},{"g":"C","p":2,"k":"c","t":6.6,"s":0.02},

{"g":"C","p":3,"k":"k","t":0,"s":1},{"g":"C","p":3,"k":"k","t":0.3,"s":0.97},{"g":"C","p":3,"k":"k","t":0.5,"s":0.95},{"g":"C","p":3,"k":"k","t":0.75,"s":0.91},{"g":"C","p":3,"k":"k","t":1,"s":0.88},{"g":"C","p":3,"k":"k","t":1.25,"s":0.83},{"g":"C","p":3,"k":"k","t":1.5,"s":0.78},{"g":"C","p":3,"k":"k","t":1.75,"s":0.74},{"g":"C","p":3,"k":"k","t":2,"s":0.7},{"g":"C","p":3,"k":"k","t":2.3,"s":0.6},{"g":"C","p":3,"k":"k","t":4.9,"s":0.4},{"g":"C","p":3,"k":"k","t":13,"s":0},
{"g":"C","p":3,"k":"b","t":0,"s":1,"hi":1},{"g":"C","p":3,"k":"b","t":1,"s":0.82,"hi":0.97},{"g":"C","p":3,"k":"b","t":1.86,"s":0.56,"hi":0.89},{"g":"C","p":3,"k":"b","t":2.55,"s":0.42,"hi":0.89},{"g":"C","p":3,"k":"b","t":3.68,"s":0.42,"hi":0.89},{"g":"C","p":3,"k":"b","t":4.82,"s":0.17,"hi":0.98},{"g":"C","p":3,"k":"b","t":13,"s":0.17,"hi":0.98},
{"g":"C","p":3,"k":"m","t":0,"s":1},{"g":"C","p":3,"k":"m","t":1,"s":0.88},{"g":"C","p":3,"k":"m","t":2,"s":0.76},{"g":"C","p":3,"k":"m","t":3,"s":0.66},{"g":"C","p":3,"k":"m","t":4,"s":0.58},{"g":"C","p":3,"k":"m","t":5,"s":0.51},{"g":"C","p":3,"k":"m","t":6,"s":0.46},{"g":"C","p":3,"k":"m","t":7,"s":0.42},{"g":"C","p":3,"k":"m","t":8,"s":0.37},{"g":"C","p":3,"k":"m","t":9,"s":0.33},{"g":"C","p":3,"k":"m","t":10,"s":0.3},{"g":"C","p":3,"k":"m","t":11,"s":0.26},{"g":"C","p":3,"k":"m","t":11.8,"s":0.23},
{"g":"C","p":3,"k":"c","t":0.1,"s":1},{"g":"C","p":3,"k":"c","t":0.2,"s":1},{"g":"C","p":3,"k":"c","t":0.35,"s":0.97},{"g":"C","p":3,"k":"c","t":0.45,"s":0.97},{"g":"C","p":3,"k":"c","t":0.55,"s":0.95},{"g":"C","p":3,"k":"c","t":0.65,"s":0.95},{"g":"C","p":3,"k":"c","t":0.8,"s":0.91},{"g":"C","p":3,"k":"c","t":0.9,"s":0.91},{"g":"C","p":3,"k":"c","t":1.05,"s":0.88},{"g":"C","p":3,"k":"c","t":1.15,"s":0.88},{"g":"C","p":3,"k":"c","t":1.3,"s":0.83},{"g":"C","p":3,"k":"c","t":1.4,"s":0.83},{"g":"C","p":3,"k":"c","t":1.55,"s":0.78},{"g":"C","p":3,"k":"c","t":1.65,"s":0.78},{"g":"C","p":3,"k":"c","t":1.8,"s":0.74},{"g":"C","p":3,"k":"c","t":1.9,"s":0.74},{"g":"C","p":3,"k":"c","t":2.05,"s":0.7},{"g":"C","p":3,"k":"c","t":2.2,"s":0.7},{"g":"C","p":3,"k":"c","t":3.4,"s":0.6},{"g":"C","p":3,"k":"c","t":5.5,"s":0.4},

{"g":"C","p":4,"k":"k","t":0,"s":1},{"g":"C","p":4,"k":"k","t":0.3,"s":0.83},{"g":"C","p":4,"k":"k","t":1.5,"s":0.62},{"g":"C","p":4,"k":"k","t":2.1,"s":0.31},
{"g":"C","p":4,"k":"b","t":0.05,"s":0.83,"hi":1},{"g":"C","p":4,"k":"b","t":2.15,"s":0.06,"hi":1},
{"g":"C","p":4,"k":"m","t":0,"s":1},{"g":"C","p":4,"k":"m","t":0.5,"s":0.89},{"g":"C","p":4,"k":"m","t":1.2,"s":0.74},{"g":"C","p":4,"k":"m","t":2,"s":0.6},{"g":"C","p":4,"k":"m","t":3,"s":0.48},{"g":"C","p":4,"k":"m","t":3.4,"s":0.43},{"g":"C","p":4,"k":"m","t":4,"s":0.36},{"g":"C","p":4,"k":"m","t":5,"s":0.27},{"g":"C","p":4,"k":"m","t":6,"s":0.19},{"g":"C","p":4,"k":"m","t":6.6,"s":0.15},{"g":"C","p":4,"k":"m","t":8,"s":0.09},{"g":"C","p":4,"k":"m","t":9,"s":0.06},{"g":"C","p":4,"k":"m","t":10,"s":0.04},{"g":"C","p":4,"k":"m","t":11.6,"s":0.02},
{"g":"C","p":4,"k":"c","t":0.15,"s":1},{"g":"C","p":4,"k":"c","t":1.55,"s":0.62},{"g":"C","p":4,"k":"c","t":2.1,"s":0.31},

{"g":"D","p":1,"k":"k","t":0,"s":1},{"g":"D","p":1,"k":"k","t":0.5,"s":0.96},{"g":"D","p":1,"k":"k","t":0.8,"s":0.88},{"g":"D","p":1,"k":"k","t":1,"s":0.8},{"g":"D","p":1,"k":"k","t":1.2,"s":0.69},{"g":"D","p":1,"k":"k","t":1.4,"s":0.59},{"g":"D","p":1,"k":"k","t":1.7,"s":0.49},{"g":"D","p":1,"k":"k","t":1.9,"s":0.42},{"g":"D","p":1,"k":"k","t":2.3,"s":0.36},{"g":"D","p":1,"k":"k","t":2.7,"s":0.31},{"g":"D","p":1,"k":"k","t":3.2,"s":0.25},{"g":"D","p":1,"k":"k","t":3.7,"s":0.19},{"g":"D","p":1,"k":"k","t":4.2,"s":0.13},{"g":"D","p":1,"k":"k","t":4.6,"s":0.09},{"g":"D","p":1,"k":"k","t":5.3,"s":0.05},{"g":"D","p":1,"k":"k","t":6,"s":0.03},{"g":"D","p":1,"k":"k","t":8.3,"s":0.03},
{"g":"D","p":1,"k":"b","t":0,"s":1,"hi":1},{"g":"D","p":1,"k":"b","t":1,"s":0.77,"hi":0.84},{"g":"D","p":1,"k":"b","t":2,"s":0.37,"hi":0.46},{"g":"D","p":1,"k":"b","t":3,"s":0.23,"hi":0.31},{"g":"D","p":1,"k":"b","t":4,"s":0.12,"hi":0.2},{"g":"D","p":1,"k":"b","t":5,"s":0.03,"hi":0.1},{"g":"D","p":1,"k":"b","t":5.5,"s":0.01,"hi":0.07},{"g":"D","p":1,"k":"b","t":8.3,"s":0.01,"hi":0.07},
{"g":"D","p":1,"k":"m","t":0,"s":1},{"g":"D","p":1,"k":"m","t":0.5,"s":0.93},{"g":"D","p":1,"k":"m","t":1,"s":0.78},{"g":"D","p":1,"k":"m","t":1.5,"s":0.6},{"g":"D","p":1,"k":"m","t":2,"s":0.45},{"g":"D","p":1,"k":"m","t":2.5,"s":0.34},{"g":"D","p":1,"k":"m","t":3,"s":0.26},{"g":"D","p":1,"k":"m","t":3.5,"s":0.2},{"g":"D","p":1,"k":"m","t":4,"s":0.15},{"g":"D","p":1,"k":"m","t":5,"s":0.09},{"g":"D","p":1,"k":"m","t":6,"s":0.05},{"g":"D","p":1,"k":"m","t":7,"s":0.03},{"g":"D","p":1,"k":"m","t":8,"s":0.02},{"g":"D","p":1,"k":"m","t":10,"s":0.01},{"g":"D","p":1,"k":"m","t":12.3,"s":0.005},
{"g":"D","p":1,"k":"c","t":1.5,"s":0.56},{"g":"D","p":1,"k":"c","t":1.6,"s":0.53},{"g":"D","p":1,"k":"c","t":1.8,"s":0.46},{"g":"D","p":1,"k":"c","t":2,"s":0.41},{"g":"D","p":1,"k":"c","t":2.1,"s":0.39},{"g":"D","p":1,"k":"c","t":2.3,"s":0.36},{"g":"D","p":1,"k":"c","t":2.5,"s":0.34},{"g":"D","p":1,"k":"c","t":2.6,"s":0.32},{"g":"D","p":1,"k":"c","t":2.8,"s":0.3},{"g":"D","p":1,"k":"c","t":3,"s":0.27},{"g":"D","p":1,"k":"c","t":3.3,"s":0.24},{"g":"D","p":1,"k":"c","t":3.5,"s":0.22},{"g":"D","p":1,"k":"c","t":3.8,"s":0.18},{"g":"D","p":1,"k":"c","t":4.1,"s":0.14},{"g":"D","p":1,"k":"c","t":6.9,"s":0.03},

{"g":"D","p":2,"k":"k","t":0,"s":1},{"g":"D","p":2,"k":"k","t":0.3,"s":0.89},{"g":"D","p":2,"k":"k","t":0.5,"s":0.78},{"g":"D","p":2,"k":"k","t":0.7,"s":0.68},{"g":"D","p":2,"k":"k","t":0.9,"s":0.59},{"g":"D","p":2,"k":"k","t":1.2,"s":0.52},{"g":"D","p":2,"k":"k","t":1.4,"s":0.45},{"g":"D","p":2,"k":"k","t":1.6,"s":0.4},{"g":"D","p":2,"k":"k","t":1.9,"s":0.33},{"g":"D","p":2,"k":"k","t":2.1,"s":0.28},{"g":"D","p":2,"k":"k","t":2.5,"s":0.23},{"g":"D","p":2,"k":"k","t":3,"s":0.19},{"g":"D","p":2,"k":"k","t":3.8,"s":0.15},{"g":"D","p":2,"k":"k","t":4.8,"s":0.12},{"g":"D","p":2,"k":"k","t":5.8,"s":0.09},{"g":"D","p":2,"k":"k","t":6.7,"s":0.07},{"g":"D","p":2,"k":"k","t":7.4,"s":0.03},{"g":"D","p":2,"k":"k","t":8,"s":0.01},
{"g":"D","p":2,"k":"b","t":0,"s":1,"hi":1},{"g":"D","p":2,"k":"b","t":1,"s":0.5,"hi":0.62},{"g":"D","p":2,"k":"b","t":2,"s":0.25,"hi":0.34},{"g":"D","p":2,"k":"b","t":3,"s":0.14,"hi":0.24},{"g":"D","p":2,"k":"b","t":4,"s":0.1,"hi":0.22},{"g":"D","p":2,"k":"b","t":5,"s":0.07,"hi":0.19},{"g":"D","p":2,"k":"b","t":6,"s":0.05,"hi":0.19},{"g":"D","p":2,"k":"b","t":7.1,"s":0.04,"hi":0.21},
{"g":"D","p":2,"k":"m","t":0,"s":1},{"g":"D","p":2,"k":"m","t":0.5,"s":0.8},{"g":"D","p":2,"k":"m","t":1,"s":0.6},{"g":"D","p":2,"k":"m","t":1.5,"s":0.46},{"g":"D","p":2,"k":"m","t":2,"s":0.34},{"g":"D","p":2,"k":"m","t":2.5,"s":0.26},{"g":"D","p":2,"k":"m","t":3,"s":0.2},{"g":"D","p":2,"k":"m","t":4,"s":0.13},{"g":"D","p":2,"k":"m","t":5,"s":0.09},{"g":"D","p":2,"k":"m","t":6,"s":0.06},{"g":"D","p":2,"k":"m","t":7,"s":0.04},{"g":"D","p":2,"k":"m","t":8,"s":0.025},{"g":"D","p":2,"k":"m","t":9,"s":0.015},{"g":"D","p":2,"k":"m","t":10,"s":0.01},{"g":"D","p":2,"k":"m","t":11.6,"s":0.005},
{"g":"D","p":2,"k":"c","t":0.05,"s":1},{"g":"D","p":2,"k":"c","t":0.1,"s":0.97},{"g":"D","p":2,"k":"c","t":0.15,"s":0.95},{"g":"D","p":2,"k":"c","t":0.2,"s":0.93},{"g":"D","p":2,"k":"c","t":0.25,"s":0.91},{"g":"D","p":2,"k":"c","t":0.3,"s":0.89},{"g":"D","p":2,"k":"c","t":0.35,"s":0.86},{"g":"D","p":2,"k":"c","t":0.4,"s":0.84},{"g":"D","p":2,"k":"c","t":0.45,"s":0.81},{"g":"D","p":2,"k":"c","t":0.5,"s":0.78},{"g":"D","p":2,"k":"c","t":0.55,"s":0.75},{"g":"D","p":2,"k":"c","t":0.6,"s":0.73},{"g":"D","p":2,"k":"c","t":0.7,"s":0.68},{"g":"D","p":2,"k":"c","t":0.8,"s":0.63},{"g":"D","p":2,"k":"c","t":0.9,"s":0.59},{"g":"D","p":2,"k":"c","t":1,"s":0.57},{"g":"D","p":2,"k":"c","t":1.1,"s":0.54},{"g":"D","p":2,"k":"c","t":1.2,"s":0.52},{"g":"D","p":2,"k":"c","t":1.3,"s":0.48},{"g":"D","p":2,"k":"c","t":1.5,"s":0.43},{"g":"D","p":2,"k":"c","t":1.7,"s":0.38},{"g":"D","p":2,"k":"c","t":1.9,"s":0.33},{"g":"D","p":2,"k":"c","t":2.2,"s":0.27},{"g":"D","p":2,"k":"c","t":2.5,"s":0.23},{"g":"D","p":2,"k":"c","t":2.8,"s":0.21},{"g":"D","p":2,"k":"c","t":3.2,"s":0.18},{"g":"D","p":2,"k":"c","t":3.6,"s":0.16},{"g":"D","p":2,"k":"c","t":4.2,"s":0.14},{"g":"D","p":2,"k":"c","t":5.8,"s":0.09},{"g":"D","p":2,"k":"c","t":6.2,"s":0.08},

{"g":"D","p":3,"k":"k","t":0,"s":1},{"g":"D","p":3,"k":"k","t":0.25,"s":0.98},{"g":"D","p":3,"k":"k","t":0.5,"s":0.96},{"g":"D","p":3,"k":"k","t":0.75,"s":0.9},{"g":"D","p":3,"k":"k","t":1,"s":0.83},{"g":"D","p":3,"k":"k","t":1.3,"s":0.77},{"g":"D","p":3,"k":"k","t":1.6,"s":0.7},{"g":"D","p":3,"k":"k","t":1.85,"s":0.64},{"g":"D","p":3,"k":"k","t":2.1,"s":0.58},{"g":"D","p":3,"k":"k","t":2.3,"s":0.53},{"g":"D","p":3,"k":"k","t":2.5,"s":0.49},{"g":"D","p":3,"k":"k","t":2.75,"s":0.44},{"g":"D","p":3,"k":"k","t":3,"s":0.4},{"g":"D","p":3,"k":"k","t":3.7,"s":0.26},{"g":"D","p":3,"k":"k","t":5.5,"s":0.26},
{"g":"D","p":3,"k":"b","t":0,"s":1,"hi":1},{"g":"D","p":3,"k":"b","t":1,"s":0.8,"hi":0.95},{"g":"D","p":3,"k":"b","t":1.8,"s":0.61,"hi":0.8},{"g":"D","p":3,"k":"b","t":2.3,"s":0.5,"hi":0.77},{"g":"D","p":3,"k":"b","t":2.7,"s":0.37,"hi":0.7},{"g":"D","p":3,"k":"b","t":3,"s":0.3,"hi":0.62},{"g":"D","p":3,"k":"b","t":3.7,"s":0.1,"hi":0.63},{"g":"D","p":3,"k":"b","t":5.4,"s":0.1,"hi":0.63},
{"g":"D","p":3,"k":"m","t":0,"s":1},{"g":"D","p":3,"k":"m","t":0.5,"s":0.95},{"g":"D","p":3,"k":"m","t":1,"s":0.87},{"g":"D","p":3,"k":"m","t":1.5,"s":0.78},{"g":"D","p":3,"k":"m","t":2,"s":0.7},{"g":"D","p":3,"k":"m","t":3,"s":0.6},{"g":"D","p":3,"k":"m","t":4,"s":0.51},{"g":"D","p":3,"k":"m","t":5,"s":0.44},{"g":"D","p":3,"k":"m","t":6,"s":0.38},{"g":"D","p":3,"k":"m","t":7,"s":0.34},{"g":"D","p":3,"k":"m","t":8,"s":0.3},{"g":"D","p":3,"k":"m","t":9,"s":0.26},{"g":"D","p":3,"k":"m","t":10,"s":0.22},{"g":"D","p":3,"k":"m","t":11,"s":0.19},{"g":"D","p":3,"k":"m","t":12.1,"s":0.16},
{"g":"D","p":3,"k":"c","t":0.1,"s":1},{"g":"D","p":3,"k":"c","t":0.2,"s":1},{"g":"D","p":3,"k":"c","t":0.3,"s":0.98},{"g":"D","p":3,"k":"c","t":0.4,"s":0.98},{"g":"D","p":3,"k":"c","t":0.55,"s":0.96},{"g":"D","p":3,"k":"c","t":0.65,"s":0.96},{"g":"D","p":3,"k":"c","t":0.8,"s":0.9},{"g":"D","p":3,"k":"c","t":0.9,"s":0.9},{"g":"D","p":3,"k":"c","t":1.05,"s":0.83},{"g":"D","p":3,"k":"c","t":1.2,"s":0.83},{"g":"D","p":3,"k":"c","t":1.35,"s":0.77},{"g":"D","p":3,"k":"c","t":1.5,"s":0.77},{"g":"D","p":3,"k":"c","t":1.65,"s":0.7},{"g":"D","p":3,"k":"c","t":1.8,"s":0.7},{"g":"D","p":3,"k":"c","t":1.9,"s":0.64},{"g":"D","p":3,"k":"c","t":2,"s":0.64},{"g":"D","p":3,"k":"c","t":2.2,"s":0.58},{"g":"D","p":3,"k":"c","t":2.4,"s":0.53},{"g":"D","p":3,"k":"c","t":2.6,"s":0.49},{"g":"D","p":3,"k":"c","t":2.9,"s":0.44},{"g":"D","p":3,"k":"c","t":3.1,"s":0.4},{"g":"D","p":3,"k":"c","t":4.1,"s":0.26},{"g":"D","p":3,"k":"c","t":4.8,"s":0.26},{"g":"D","p":3,"k":"c","t":5.4,"s":0.26},

{"g":"D","p":4,"k":"k","t":0,"s":1},{"g":"D","p":4,"k":"k","t":1.5,"s":0.83},{"g":"D","p":4,"k":"k","t":2,"s":0.66},{"g":"D","p":4,"k":"k","t":6,"s":0.42},{"g":"D","p":4,"k":"k","t":6.2,"s":0.21},{"g":"D","p":4,"k":"k","t":13.3,"s":0.21},
{"g":"D","p":4,"k":"b","t":1.4,"s":0.83,"hi":1},{"g":"D","p":4,"k":"b","t":2,"s":0.37,"hi":1},{"g":"D","p":4,"k":"b","t":6,"s":0.17,"hi":1},{"g":"D","p":4,"k":"b","t":6.2,"s":0.03,"hi":1},{"g":"D","p":4,"k":"b","t":13.3,"s":0.03,"hi":1},
{"g":"D","p":4,"k":"m","t":0,"s":1},{"g":"D","p":4,"k":"m","t":0.5,"s":0.94},{"g":"D","p":4,"k":"m","t":1,"s":0.88},{"g":"D","p":4,"k":"m","t":2,"s":0.78},{"g":"D","p":4,"k":"m","t":3,"s":0.69},{"g":"D","p":4,"k":"m","t":4.4,"s":0.58},{"g":"D","p":4,"k":"m","t":6,"s":0.48},{"g":"D","p":4,"k":"m","t":8,"s":0.39},{"g":"D","p":4,"k":"m","t":10,"s":0.32},{"g":"D","p":4,"k":"m","t":11.9,"s":0.27},
{"g":"D","p":4,"k":"c","t":0.2,"s":1},{"g":"D","p":4,"k":"c","t":0.7,"s":1},{"g":"D","p":4,"k":"c","t":1,"s":1},{"g":"D","p":4,"k":"c","t":2.1,"s":0.66},{"g":"D","p":4,"k":"c","t":13.3,"s":0.21},

{"g":"E","p":1,"k":"k","t":0,"s":1},{"g":"E","p":1,"k":"k","t":0.3,"s":0.95},{"g":"E","p":1,"k":"k","t":0.5,"s":0.86},{"g":"E","p":1,"k":"k","t":0.8,"s":0.72},{"g":"E","p":1,"k":"k","t":1,"s":0.6},{"g":"E","p":1,"k":"k","t":1.2,"s":0.52},{"g":"E","p":1,"k":"k","t":1.4,"s":0.44},{"g":"E","p":1,"k":"k","t":1.7,"s":0.35},{"g":"E","p":1,"k":"k","t":1.9,"s":0.29},{"g":"E","p":1,"k":"k","t":2.2,"s":0.25},{"g":"E","p":1,"k":"k","t":2.5,"s":0.21},{"g":"E","p":1,"k":"k","t":2.9,"s":0.15},{"g":"E","p":1,"k":"k","t":3.2,"s":0.09},{"g":"E","p":1,"k":"k","t":3.7,"s":0.07},{"g":"E","p":1,"k":"k","t":4.1,"s":0.05},{"g":"E","p":1,"k":"k","t":5,"s":0.03},{"g":"E","p":1,"k":"k","t":5.7,"s":0.02},
{"g":"E","p":1,"k":"b","t":0,"s":1,"hi":1},{"g":"E","p":1,"k":"b","t":1,"s":0.55,"hi":0.66},{"g":"E","p":1,"k":"b","t":2,"s":0.22,"hi":0.34},{"g":"E","p":1,"k":"b","t":3,"s":0.05,"hi":0.16},{"g":"E","p":1,"k":"b","t":4,"s":0.01,"hi":0.11},{"g":"E","p":1,"k":"b","t":5.5,"s":0,"hi":0.1},
{"g":"E","p":1,"k":"m","t":0,"s":1},{"g":"E","p":1,"k":"m","t":0.5,"s":0.85},{"g":"E","p":1,"k":"m","t":1,"s":0.62},{"g":"E","p":1,"k":"m","t":1.5,"s":0.44},{"g":"E","p":1,"k":"m","t":2,"s":0.3},{"g":"E","p":1,"k":"m","t":2.5,"s":0.2},{"g":"E","p":1,"k":"m","t":3,"s":0.13},{"g":"E","p":1,"k":"m","t":4,"s":0.06},{"g":"E","p":1,"k":"m","t":5,"s":0.03},{"g":"E","p":1,"k":"m","t":6,"s":0.015},{"g":"E","p":1,"k":"m","t":8,"s":0.005},{"g":"E","p":1,"k":"m","t":12.3,"s":0},
{"g":"E","p":1,"k":"c","t":1.1,"s":0.56},{"g":"E","p":1,"k":"c","t":2,"s":0.28},{"g":"E","p":1,"k":"c","t":2.2,"s":0.25},{"g":"E","p":1,"k":"c","t":2.4,"s":0.22},{"g":"E","p":1,"k":"c","t":2.6,"s":0.2},{"g":"E","p":1,"k":"c","t":3.2,"s":0.09},{"g":"E","p":1,"k":"c","t":5.7,"s":0.02},

{"g":"E","p":2,"k":"k","t":0,"s":1},{"g":"E","p":2,"k":"k","t":0.2,"s":0.92},{"g":"E","p":2,"k":"k","t":0.3,"s":0.85},{"g":"E","p":2,"k":"k","t":0.5,"s":0.69},{"g":"E","p":2,"k":"k","t":0.7,"s":0.55},{"g":"E","p":2,"k":"k","t":1,"s":0.42},{"g":"E","p":2,"k":"k","t":1.2,"s":0.33},{"g":"E","p":2,"k":"k","t":1.4,"s":0.26},{"g":"E","p":2,"k":"k","t":1.7,"s":0.21},{"g":"E","p":2,"k":"k","t":2.1,"s":0.17},{"g":"E","p":2,"k":"k","t":2.5,"s":0.13},{"g":"E","p":2,"k":"k","t":3,"s":0.09},{"g":"E","p":2,"k":"k","t":4,"s":0.06},{"g":"E","p":2,"k":"k","t":4.4,"s":0.04},{"g":"E","p":2,"k":"k","t":5,"s":0.03},
{"g":"E","p":2,"k":"b","t":0,"s":1,"hi":1},{"g":"E","p":2,"k":"b","t":0.5,"s":0.62,"hi":0.76},{"g":"E","p":2,"k":"b","t":1,"s":0.34,"hi":0.5},{"g":"E","p":2,"k":"b","t":2,"s":0.1,"hi":0.23},{"g":"E","p":2,"k":"b","t":3,"s":0.04,"hi":0.16},{"g":"E","p":2,"k":"b","t":4.8,"s":0.02,"hi":0.16},
{"g":"E","p":2,"k":"m","t":0,"s":1},{"g":"E","p":2,"k":"m","t":0.3,"s":0.85},{"g":"E","p":2,"k":"m","t":0.6,"s":0.66},{"g":"E","p":2,"k":"m","t":1,"s":0.46},{"g":"E","p":2,"k":"m","t":1.5,"s":0.3},{"g":"E","p":2,"k":"m","t":2,"s":0.2},{"g":"E","p":2,"k":"m","t":2.5,"s":0.14},{"g":"E","p":2,"k":"m","t":3,"s":0.1},{"g":"E","p":2,"k":"m","t":4,"s":0.05},{"g":"E","p":2,"k":"m","t":5,"s":0.025},{"g":"E","p":2,"k":"m","t":6,"s":0.012},{"g":"E","p":2,"k":"m","t":8,"s":0.004},{"g":"E","p":2,"k":"m","t":12,"s":0},
{"g":"E","p":2,"k":"c","t":0.1,"s":0.98},{"g":"E","p":2,"k":"c","t":0.15,"s":0.95},{"g":"E","p":2,"k":"c","t":0.2,"s":0.92},{"g":"E","p":2,"k":"c","t":0.3,"s":0.85},{"g":"E","p":2,"k":"c","t":0.35,"s":0.81},{"g":"E","p":2,"k":"c","t":0.4,"s":0.77},{"g":"E","p":2,"k":"c","t":0.45,"s":0.73},{"g":"E","p":2,"k":"c","t":0.5,"s":0.69},{"g":"E","p":2,"k":"c","t":0.55,"s":0.66},{"g":"E","p":2,"k":"c","t":0.6,"s":0.62},{"g":"E","p":2,"k":"c","t":0.7,"s":0.55},{"g":"E","p":2,"k":"c","t":0.8,"s":0.51},{"g":"E","p":2,"k":"c","t":0.9,"s":0.46},{"g":"E","p":2,"k":"c","t":1,"s":0.42},{"g":"E","p":2,"k":"c","t":1.1,"s":0.38},{"g":"E","p":2,"k":"c","t":1.2,"s":0.33},{"g":"E","p":2,"k":"c","t":1.3,"s":0.3},{"g":"E","p":2,"k":"c","t":1.5,"s":0.25},{"g":"E","p":2,"k":"c","t":1.6,"s":0.23},{"g":"E","p":2,"k":"c","t":1.8,"s":0.2},{"g":"E","p":2,"k":"c","t":2,"s":0.18},{"g":"E","p":2,"k":"c","t":2.3,"s":0.15},{"g":"E","p":2,"k":"c","t":2.6,"s":0.12},{"g":"E","p":2,"k":"c","t":4.3,"s":0.04},{"g":"E","p":2,"k":"c","t":4.7,"s":0.035},

{"g":"E","p":3,"k":"k","t":0,"s":1},{"g":"E","p":3,"k":"k","t":0.3,"s":0.95},{"g":"E","p":3,"k":"k","t":0.5,"s":0.88},{"g":"E","p":3,"k":"k","t":0.7,"s":0.79},{"g":"E","p":3,"k":"k","t":0.85,"s":0.72},{"g":"E","p":3,"k":"k","t":1,"s":0.66},{"g":"E","p":3,"k":"k","t":1.2,"s":0.6},{"g":"E","p":3,"k":"k","t":1.5,"s":0.43},{"g":"E","p":3,"k":"k","t":1.9,"s":0.34},{"g":"E","p":3,"k":"k","t":3.5,"s":0.25},{"g":"E","p":3,"k":"k","t":6,"s":0.12},{"g":"E","p":3,"k":"k","t":7.5,"s":0.12},
{"g":"E","p":3,"k":"b","t":0,"s":1,"hi":1},{"g":"E","p":3,"k":"b","t":0.5,"s":0.8,"hi":0.95},{"g":"E","p":3,"k":"b","t":1,"s":0.55,"hi":0.78},{"g":"E","p":3,"k":"b","t":1.4,"s":0.42,"hi":0.6},{"g":"E","p":3,"k":"b","t":2,"s":0.26,"hi":0.58},{"g":"E","p":3,"k":"b","t":3.4,"s":0.17,"hi":0.55},{"g":"E","p":3,"k":"b","t":4,"s":0.13,"hi":0.52},{"g":"E","p":3,"k":"b","t":4.5,"s":0.1,"hi":0.6},{"g":"E","p":3,"k":"b","t":5.9,"s":0.05,"hi":0.6},{"g":"E","p":3,"k":"b","t":7.3,"s":0.05,"hi":0.6},
{"g":"E","p":3,"k":"m","t":0,"s":1},{"g":"E","p":3,"k":"m","t":0.5,"s":0.87},{"g":"E","p":3,"k":"m","t":1,"s":0.75},{"g":"E","p":3,"k":"m","t":1.5,"s":0.64},{"g":"E","p":3,"k":"m","t":2.3,"s":0.49},{"g":"E","p":3,"k":"m","t":3,"s":0.4},{"g":"E","p":3,"k":"m","t":4,"s":0.31},{"g":"E","p":3,"k":"m","t":5.5,"s":0.22},{"g":"E","p":3,"k":"m","t":6.5,"s":0.16},{"g":"E","p":3,"k":"m","t":7.3,"s":0.12},{"g":"E","p":3,"k":"m","t":8.5,"s":0.08},{"g":"E","p":3,"k":"m","t":10,"s":0.04},{"g":"E","p":3,"k":"m","t":11.5,"s":0.02},
{"g":"E","p":3,"k":"c","t":0.1,"s":1},{"g":"E","p":3,"k":"c","t":0.2,"s":1},{"g":"E","p":3,"k":"c","t":0.35,"s":0.95},{"g":"E","p":3,"k":"c","t":0.45,"s":0.95},{"g":"E","p":3,"k":"c","t":0.55,"s":0.88},{"g":"E","p":3,"k":"c","t":0.65,"s":0.88},{"g":"E","p":3,"k":"c","t":0.75,"s":0.79},{"g":"E","p":3,"k":"c","t":0.9,"s":0.72},{"g":"E","p":3,"k":"c","t":1.05,"s":0.66},{"g":"E","p":3,"k":"c","t":1.1,"s":0.66},{"g":"E","p":3,"k":"c","t":1.3,"s":0.6},{"g":"E","p":3,"k":"c","t":1.6,"s":0.43},{"g":"E","p":3,"k":"c","t":3.2,"s":0.34},{"g":"E","p":3,"k":"c","t":4.3,"s":0.25},{"g":"E","p":3,"k":"c","t":6.6,"s":0.12},{"g":"E","p":3,"k":"c","t":7.3,"s":0.12},

{"g":"E","p":4,"k":"k","t":0,"s":1},{"g":"E","p":4,"k":"k","t":0.3,"s":0.94},{"g":"E","p":4,"k":"k","t":0.6,"s":0.85},{"g":"E","p":4,"k":"k","t":0.9,"s":0.76},{"g":"E","p":4,"k":"k","t":1.1,"s":0.63},{"g":"E","p":4,"k":"k","t":1.9,"s":0.48},{"g":"E","p":4,"k":"k","t":2,"s":0.17},{"g":"E","p":4,"k":"k","t":3.5,"s":0},
{"g":"E","p":4,"k":"b","t":0.5,"s":0.8,"hi":1},{"g":"E","p":4,"k":"b","t":2,"s":0.03,"hi":1},{"g":"E","p":4,"k":"b","t":2.05,"s":0.03,"hi":0.91},{"g":"E","p":4,"k":"b","t":3.5,"s":0.03,"hi":0.91},
{"g":"E","p":4,"k":"m","t":0,"s":1},{"g":"E","p":4,"k":"m","t":0.5,"s":0.88},{"g":"E","p":4,"k":"m","t":1.2,"s":0.66},{"g":"E","p":4,"k":"m","t":2,"s":0.45},{"g":"E","p":4,"k":"m","t":2.5,"s":0.33},{"g":"E","p":4,"k":"m","t":3.5,"s":0.17},{"g":"E","p":4,"k":"m","t":4.5,"s":0.1},{"g":"E","p":4,"k":"m","t":5.5,"s":0.07},{"g":"E","p":4,"k":"m","t":6.7,"s":0.05},{"g":"E","p":4,"k":"m","t":8,"s":0.03},{"g":"E","p":4,"k":"m","t":10,"s":0.015},{"g":"E","p":4,"k":"m","t":11.6,"s":0.01},
{"g":"E","p":4,"k":"c","t":0.2,"s":1},{"g":"E","p":4,"k":"c","t":0.4,"s":0.94},{"g":"E","p":4,"k":"c","t":0.8,"s":0.85},{"g":"E","p":4,"k":"c","t":1.6,"s":0.63},{"g":"E","p":4,"k":"c","t":1.9,"s":0.48}
]
},
"columns":4,
"spacing":{"row":20.5,"column":35.5},
"concat":[
{"title":{"text":["All","patients"]},"width":132,"height":108,"data":{"name":"d"},"transform":[{"filter":"datum.g=='A'&&datum.p==1"}],"encoding":{"x":{"field":"t","type":"quantitative","scale":{"domain":[0,18],"nice":false},"axis":{"labels":false,"title":null}},"y":{"field":"s","type":"quantitative","scale":{"domain":[0,1]},"axis":{"format":"~g","title":["Proportion","not progressed"]}}},"layer":[
 {"transform":[{"filter":"datum.k=='b'"}],"mark":{"type":"area","color":"#BEBEBE","opacity":1},"encoding":{"y2":{"field":"hi"}}},
 {"transform":[{"filter":"datum.k=='m'"}],"mark":{"type":"line","color":"#000000","strokeDash":[4,4],"strokeWidth":1.2,"interpolate":"monotone"}},
 {"transform":[{"filter":"datum.k=='k'"}],"mark":{"type":"line","color":"#000000","strokeWidth":1.3,"interpolate":"linear"}},
 {"transform":[{"filter":"datum.k=='c'"}],"mark":{"type":"point","shape":"M-1,0L1,0M0,-1L0,1","filled":false,"size":50,"strokeWidth":1.1,"color":"#000000","opacity":1}}]},
{"width":132,"height":108,"data":{"name":"d"},"transform":[{"filter":"datum.g=='A'&&datum.p==2"}],"encoding":{"x":{"field":"t","type":"quantitative","scale":{"domain":[0,18],"nice":false},"axis":{"labels":false,"title":null}},"y":{"field":"s","type":"quantitative","scale":{"domain":[0,1]},"axis":{"labels":false,"title":null}}},"layer":[
 {"transform":[{"filter":"datum.k=='b'"}],"mark":{"type":"area","color":"#BEBEBE","opacity":1},"encoding":{"y2":{"field":"hi"}}},
 {"transform":[{"filter":"datum.k=='m'"}],"mark":{"type":"line","color":"#000000","strokeDash":[4,4],"strokeWidth":1.2,"interpolate":"monotone"}},
 {"transform":[{"filter":"datum.k=='k'"}],"mark":{"type":"line","color":"#000000","strokeWidth":1.3,"interpolate":"linear"}},
 {"transform":[{"filter":"datum.k=='c'"}],"mark":{"type":"point","shape":"M-1,0L1,0M0,-1L0,1","filled":false,"size":50,"strokeWidth":1.1,"color":"#000000","opacity":1}}]},
{"width":132,"height":108,"data":{"name":"d"},"transform":[{"filter":"datum.g=='A'&&datum.p==3"}],"encoding":{"x":{"field":"t","type":"quantitative","scale":{"domain":[0,18],"nice":false},"axis":{"labels":false,"title":null}},"y":{"field":"s","type":"quantitative","scale":{"domain":[0,1]},"axis":{"labels":false,"title":null}}},"layer":[
 {"transform":[{"filter":"datum.k=='b'"}],"mark":{"type":"area","color":"#BEBEBE","opacity":1},"encoding":{"y2":{"field":"hi"}}},
 {"transform":[{"filter":"datum.k=='m'"}],"mark":{"type":"line","color":"#000000","strokeDash":[4,4],"strokeWidth":1.2,"interpolate":"monotone"}},
 {"transform":[{"filter":"datum.k=='k'"}],"mark":{"type":"line","color":"#000000","strokeWidth":1.3,"interpolate":"step-after"}},
 {"transform":[{"filter":"datum.k=='c'"}],"mark":{"type":"point","shape":"M-1,0L1,0M0,-1L0,1","filled":false,"size":50,"strokeWidth":1.1,"color":"#000000","opacity":1}}]},
{"width":132,"height":108,"data":{"name":"d"},"transform":[{"filter":"datum.g=='A'&&datum.p==4"}],"encoding":{"x":{"field":"t","type":"quantitative","scale":{"domain":[0,18],"nice":false},"axis":{"labels":false,"title":null}},"y":{"field":"s","type":"quantitative","scale":{"domain":[0,1]},"axis":{"labels":false,"title":null}}},"layer":[
 {"transform":[{"filter":"datum.k=='b'"}],"mark":{"type":"area","color":"#BEBEBE","opacity":1},"encoding":{"y2":{"field":"hi"}}},
 {"transform":[{"filter":"datum.k=='m'"}],"mark":{"type":"line","color":"#000000","strokeDash":[4,4],"strokeWidth":1.2,"interpolate":"monotone"}},
 {"transform":[{"filter":"datum.k=='k'"}],"mark":{"type":"line","color":"#000000","strokeWidth":1.3,"interpolate":"step-after"}},
 {"transform":[{"filter":"datum.k=='c'"}],"mark":{"type":"point","shape":"M-1,0L1,0M0,-1L0,1","filled":false,"size":50,"strokeWidth":1.1,"color":"#000000","opacity":1}}]},

{"title":{"text":["logSPVL","<4.0"]},"width":132,"height":108,"data":{"name":"d"},"transform":[{"filter":"datum.g=='B'&&datum.p==1"}],"encoding":{"x":{"field":"t","type":"quantitative","scale":{"domain":[0,18],"nice":false},"axis":{"labels":false,"title":null}},"y":{"field":"s","type":"quantitative","scale":{"domain":[0,1]},"axis":{"format":"~g","title":["Proportion","not progressed"]}}},"layer":[
 {"transform":[{"filter":"datum.k=='b'"}],"mark":{"type":"area","color":"#FDE7B4","opacity":1},"encoding":{"y2":{"field":"hi"}}},
 {"transform":[{"filter":"datum.k=='m'"}],"mark":{"type":"line","color":"#F5A81C","strokeDash":[4,4],"strokeWidth":1.2,"interpolate":"monotone"}},
 {"transform":[{"filter":"datum.k=='k'"}],"mark":{"type":"line","color":"#F5A81C","strokeWidth":1.3,"interpolate":"linear"}},
 {"transform":[{"filter":"datum.k=='c'"}],"mark":{"type":"point","shape":"M-1,0L1,0M0,-1L0,1","filled":false,"size":50,"strokeWidth":1.1,"color":"#F5A81C","opacity":1}}]},
{"width":132,"height":108,"data":{"name":"d"},"transform":[{"filter":"datum.g=='B'&&datum.p==2"}],"encoding":{"x":{"field":"t","type":"quantitative","scale":{"domain":[0,18],"nice":false},"axis":{"labels":false,"title":null}},"y":{"field":"s","type":"quantitative","scale":{"domain":[0,1]},"axis":{"labels":false,"title":null}}},"layer":[
 {"transform":[{"filter":"datum.k=='b'"}],"mark":{"type":"area","color":"#FDE7B4","opacity":1},"encoding":{"y2":{"field":"hi"}}},
 {"transform":[{"filter":"datum.k=='m'"}],"mark":{"type":"line","color":"#F5A81C","strokeDash":[4,4],"strokeWidth":1.2,"interpolate":"monotone"}},
 {"transform":[{"filter":"datum.k=='k'"}],"mark":{"type":"line","color":"#F5A81C","strokeWidth":1.3,"interpolate":"linear"}},
 {"transform":[{"filter":"datum.k=='c'"}],"mark":{"type":"point","shape":"M-1,0L1,0M0,-1L0,1","filled":false,"size":50,"strokeWidth":1.1,"color":"#F5A81C","opacity":1}}]},
{"width":132,"height":108,"data":{"name":"d"},"transform":[{"filter":"datum.g=='B'&&datum.p==3"}],"encoding":{"x":{"field":"t","type":"quantitative","scale":{"domain":[0,18],"nice":false},"axis":{"labels":false,"title":null}},"y":{"field":"s","type":"quantitative","scale":{"domain":[0,1]},"axis":{"labels":false,"title":null}}},"layer":[
 {"transform":[{"filter":"datum.k=='b'"}],"mark":{"type":"area","color":"#FDE7B4","opacity":1},"encoding":{"y2":{"field":"hi"}}},
 {"transform":[{"filter":"datum.k=='m'"}],"mark":{"type":"line","color":"#F5A81C","strokeDash":[4,4],"strokeWidth":1.2,"interpolate":"monotone"}},
 {"transform":[{"filter":"datum.k=='k'"}],"mark":{"type":"line","color":"#F5A81C","strokeWidth":1.3,"interpolate":"step-after"}},
 {"transform":[{"filter":"datum.k=='c'"}],"mark":{"type":"point","shape":"M-1,0L1,0M0,-1L0,1","filled":false,"size":50,"strokeWidth":1.1,"color":"#F5A81C","opacity":1}}]},
{"width":132,"height":108,"data":{"name":"d"},"transform":[{"filter":"datum.g=='B'&&datum.p==4"}],"encoding":{"x":{"field":"t","type":"quantitative","scale":{"domain":[0,18],"nice":false},"axis":{"labels":false,"title":null}},"y":{"field":"s","type":"quantitative","scale":{"domain":[0,1]},"axis":{"labels":false,"title":null}}},"layer":[
 {"transform":[{"filter":"datum.k=='b'"}],"mark":{"type":"area","color":"#FDE7B4","opacity":1},"encoding":{"y2":{"field":"hi"}}},
 {"transform":[{"filter":"datum.k=='m'"}],"mark":{"type":"line","color":"#F5A81C","strokeDash":[4,4],"strokeWidth":1.2,"interpolate":"monotone"}},
 {"transform":[{"filter":"datum.k=='k'"}],"mark":{"type":"line","color":"#F5A81C","strokeWidth":1.3,"interpolate":"step-after"}},
 {"transform":[{"filter":"datum.k=='c'"}],"mark":{"type":"point","shape":"M-1,0L1,0M0,-1L0,1","filled":false,"size":50,"strokeWidth":1.1,"color":"#F5A81C","opacity":1}}]},

{"title":{"text":["logSPVL","4.0–4.5"]},"width":132,"height":108,"data":{"name":"d"},"transform":[{"filter":"datum.g=='C'&&datum.p==1"}],"encoding":{"x":{"field":"t","type":"quantitative","scale":{"domain":[0,18],"nice":false},"axis":{"labels":false,"title":null}},"y":{"field":"s","type":"quantitative","scale":{"domain":[0,1]},"axis":{"format":"~g","title":["Proportion","not progressed"]}}},"layer":[
 {"transform":[{"filter":"datum.k=='b'"}],"mark":{"type":"area","color":"#F9C9AD","opacity":1},"encoding":{"y2":{"field":"hi"}}},
 {"transform":[{"filter":"datum.k=='m'"}],"mark":{"type":"line","color":"#EC6B2D","strokeDash":[4,4],"strokeWidth":1.2,"interpolate":"monotone"}},
 {"transform":[{"filter":"datum.k=='k'"}],"mark":{"type":"line","color":"#EC6B2D","strokeWidth":1.3,"interpolate":"linear"}},
 {"transform":[{"filter":"datum.k=='c'"}],"mark":{"type":"point","shape":"M-1,0L1,0M0,-1L0,1","filled":false,"size":50,"strokeWidth":1.1,"color":"#EC6B2D","opacity":1}}]},
{"width":132,"height":108,"data":{"name":"d"},"transform":[{"filter":"datum.g=='C'&&datum.p==2"}],"encoding":{"x":{"field":"t","type":"quantitative","scale":{"domain":[0,18],"nice":false},"axis":{"labels":false,"title":null}},"y":{"field":"s","type":"quantitative","scale":{"domain":[0,1]},"axis":{"labels":false,"title":null}}},"layer":[
 {"transform":[{"filter":"datum.k=='b'"}],"mark":{"type":"area","color":"#F9C9AD","opacity":1},"encoding":{"y2":{"field":"hi"}}},
 {"transform":[{"filter":"datum.k=='m'"}],"mark":{"type":"line","color":"#EC6B2D","strokeDash":[4,4],"strokeWidth":1.2,"interpolate":"monotone"}},
 {"transform":[{"filter":"datum.k=='k'"}],"mark":{"type":"line","color":"#EC6B2D","strokeWidth":1.3,"interpolate":"linear"}},
 {"transform":[{"filter":"datum.k=='c'"}],"mark":{"type":"point","shape":"M-1,0L1,0M0,-1L0,1","filled":false,"size":50,"strokeWidth":1.1,"color":"#EC6B2D","opacity":1}}]},
{"width":132,"height":108,"data":{"name":"d"},"transform":[{"filter":"datum.g=='C'&&datum.p==3"}],"encoding":{"x":{"field":"t","type":"quantitative","scale":{"domain":[0,18],"nice":false},"axis":{"labels":false,"title":null}},"y":{"field":"s","type":"quantitative","scale":{"domain":[0,1]},"axis":{"labels":false,"title":null}}},"layer":[
 {"transform":[{"filter":"datum.k=='b'"}],"mark":{"type":"area","color":"#F9C9AD","opacity":1},"encoding":{"y2":{"field":"hi"}}},
 {"transform":[{"filter":"datum.k=='m'"}],"mark":{"type":"line","color":"#EC6B2D","strokeDash":[4,4],"strokeWidth":1.2,"interpolate":"monotone"}},
 {"transform":[{"filter":"datum.k=='k'"}],"mark":{"type":"line","color":"#EC6B2D","strokeWidth":1.3,"interpolate":"step-after"}},
 {"transform":[{"filter":"datum.k=='c'"}],"mark":{"type":"point","shape":"M-1,0L1,0M0,-1L0,1","filled":false,"size":50,"strokeWidth":1.1,"color":"#EC6B2D","opacity":1}}]},
{"width":132,"height":108,"data":{"name":"d"},"transform":[{"filter":"datum.g=='C'&&datum.p==4"}],"encoding":{"x":{"field":"t","type":"quantitative","scale":{"domain":[0,18],"nice":false},"axis":{"labels":false,"title":null}},"y":{"field":"s","type":"quantitative","scale":{"domain":[0,1]},"axis":{"labels":false,"title":null}}},"layer":[
 {"transform":[{"filter":"datum.k=='b'"}],"mark":{"type":"area","color":"#F9C9AD","opacity":1},"encoding":{"y2":{"field":"hi"}}},
 {"transform":[{"filter":"datum.k=='m'"}],"mark":{"type":"line","color":"#EC6B2D","strokeDash":[4,4],"strokeWidth":1.2,"interpolate":"monotone"}},
 {"transform":[{"filter":"datum.k=='k'"}],"mark":{"type":"line","color":"#EC6B2D","strokeWidth":1.3,"interpolate":"step-after"}},
 {"transform":[{"filter":"datum.k=='c'"}],"mark":{"type":"point","shape":"M-1,0L1,0M0,-1L0,1","filled":false,"size":50,"strokeWidth":1.1,"color":"#EC6B2D","opacity":1}}]},

{"title":{"text":["logSPVL","4.5–5.0"]},"width":132,"height":108,"data":{"name":"d"},"transform":[{"filter":"datum.g=='D'&&datum.p==1"}],"encoding":{"x":{"field":"t","type":"quantitative","scale":{"domain":[0,18],"nice":false},"axis":{"labels":false,"title":null}},"y":{"field":"s","type":"quantitative","scale":{"domain":[0,1]},"axis":{"format":"~g","title":["Proportion","not progressed"]}}},"layer":[
 {"transform":[{"filter":"datum.k=='b'"}],"mark":{"type":"area","color":"#F1B4B8","opacity":1},"encoding":{"y2":{"field":"hi"}}},
 {"transform":[{"filter":"datum.k=='m'"}],"mark":{"type":"line","color":"#D2262E","strokeDash":[4,4],"strokeWidth":1.2,"interpolate":"monotone"}},
 {"transform":[{"filter":"datum.k=='k'"}],"mark":{"type":"line","color":"#D2262E","strokeWidth":1.3,"interpolate":"linear"}},
 {"transform":[{"filter":"datum.k=='c'"}],"mark":{"type":"point","shape":"M-1,0L1,0M0,-1L0,1","filled":false,"size":50,"strokeWidth":1.1,"color":"#D2262E","opacity":1}}]},
{"width":132,"height":108,"data":{"name":"d"},"transform":[{"filter":"datum.g=='D'&&datum.p==2"}],"encoding":{"x":{"field":"t","type":"quantitative","scale":{"domain":[0,18],"nice":false},"axis":{"labels":false,"title":null}},"y":{"field":"s","type":"quantitative","scale":{"domain":[0,1]},"axis":{"labels":false,"title":null}}},"layer":[
 {"transform":[{"filter":"datum.k=='b'"}],"mark":{"type":"area","color":"#F1B4B8","opacity":1},"encoding":{"y2":{"field":"hi"}}},
 {"transform":[{"filter":"datum.k=='m'"}],"mark":{"type":"line","color":"#D2262E","strokeDash":[4,4],"strokeWidth":1.2,"interpolate":"monotone"}},
 {"transform":[{"filter":"datum.k=='k'"}],"mark":{"type":"line","color":"#D2262E","strokeWidth":1.3,"interpolate":"linear"}},
 {"transform":[{"filter":"datum.k=='c'"}],"mark":{"type":"point","shape":"M-1,0L1,0M0,-1L0,1","filled":false,"size":50,"strokeWidth":1.1,"color":"#D2262E","opacity":1}}]},
{"width":132,"height":108,"data":{"name":"d"},"transform":[{"filter":"datum.g=='D'&&datum.p==3"}],"encoding":{"x":{"field":"t","type":"quantitative","scale":{"domain":[0,18],"nice":false},"axis":{"labels":false,"title":null}},"y":{"field":"s","type":"quantitative","scale":{"domain":[0,1]},"axis":{"labels":false,"title":null}}},"layer":[
 {"transform":[{"filter":"datum.k=='b'"}],"mark":{"type":"area","color":"#F1B4B8","opacity":1},"encoding":{"y2":{"field":"hi"}}},
 {"transform":[{"filter":"datum.k=='m'"}],"mark":{"type":"line","color":"#D2262E","strokeDash":[4,4],"strokeWidth":1.2,"interpolate":"monotone"}},
 {"transform":[{"filter":"datum.k=='k'"}],"mark":{"type":"line","color":"#D2262E","strokeWidth":1.3,"interpolate":"step-after"}},
 {"transform":[{"filter":"datum.k=='c'"}],"mark":{"type":"point","shape":"M-1,0L1,0M0,-1L0,1","filled":false,"size":50,"strokeWidth":1.1,"color":"#D2262E","opacity":1}}]},
{"width":132,"height":108,"data":{"name":"d"},"transform":[{"filter":"datum.g=='D'&&datum.p==4"}],"encoding":{"x":{"field":"t","type":"quantitative","scale":{"domain":[0,18],"nice":false},"axis":{"labels":false,"title":null}},"y":{"field":"s","type":"quantitative","scale":{"domain":[0,1]},"axis":{"labels":false,"title":null}}},"layer":[
 {"transform":[{"filter":"datum.k=='b'"}],"mark":{"type":"area","color":"#F1B4B8","opacity":1},"encoding":{"y2":{"field":"hi"}}},
 {"transform":[{"filter":"datum.k=='m'"}],"mark":{"type":"line","color":"#D2262E","strokeDash":[4,4],"strokeWidth":1.2,"interpolate":"monotone"}},
 {"transform":[{"filter":"datum.k=='k'"}],"mark":{"type":"line","color":"#D2262E","strokeWidth":1.3,"interpolate":"step-after"}},
 {"transform":[{"filter":"datum.k=='c'"}],"mark":{"type":"point","shape":"M-1,0L1,0M0,-1L0,1","filled":false,"size":50,"strokeWidth":1.1,"color":"#D2262E","opacity":1}}]},

{"title":{"text":["logSPVL","≥ 5"]},"width":132,"height":108,"data":{"name":"d"},"transform":[{"filter":"datum.g=='E'&&datum.p==1"}],"encoding":{"x":{"field":"t","type":"quantitative","scale":{"domain":[0,18],"nice":false},"axis":{"title":["Years from","seroconversion","to CD4⁺ 500"]}},"y":{"field":"s","type":"quantitative","scale":{"domain":[0,1]},"axis":{"format":"~g","title":["Proportion","not progressed"]}}},"layer":[
 {"transform":[{"filter":"datum.k=='b'"}],"mark":{"type":"area","color":"#D9B1B1","opacity":1},"encoding":{"y2":{"field":"hi"}}},
 {"transform":[{"filter":"datum.k=='m'"}],"mark":{"type":"line","color":"#8B1A1A","strokeDash":[4,4],"strokeWidth":1.2,"interpolate":"monotone"}},
 {"transform":[{"filter":"datum.k=='k'"}],"mark":{"type":"line","color":"#8B1A1A","strokeWidth":1.3,"interpolate":"linear"}},
 {"transform":[{"filter":"datum.k=='c'"}],"mark":{"type":"point","shape":"M-1,0L1,0M0,-1L0,1","filled":false,"size":50,"strokeWidth":1.1,"color":"#8B1A1A","opacity":1}}]},
{"width":132,"height":108,"data":{"name":"d"},"transform":[{"filter":"datum.g=='E'&&datum.p==2"}],"encoding":{"x":{"field":"t","type":"quantitative","scale":{"domain":[0,18],"nice":false},"axis":{"title":["Years from","CD4⁺ 500","to 350"]}},"y":{"field":"s","type":"quantitative","scale":{"domain":[0,1]},"axis":{"labels":false,"title":null}}},"layer":[
 {"transform":[{"filter":"datum.k=='b'"}],"mark":{"type":"area","color":"#D9B1B1","opacity":1},"encoding":{"y2":{"field":"hi"}}},
 {"transform":[{"filter":"datum.k=='m'"}],"mark":{"type":"line","color":"#8B1A1A","strokeDash":[4,4],"strokeWidth":1.2,"interpolate":"monotone"}},
 {"transform":[{"filter":"datum.k=='k'"}],"mark":{"type":"line","color":"#8B1A1A","strokeWidth":1.3,"interpolate":"linear"}},
 {"transform":[{"filter":"datum.k=='c'"}],"mark":{"type":"point","shape":"M-1,0L1,0M0,-1L0,1","filled":false,"size":50,"strokeWidth":1.1,"color":"#8B1A1A","opacity":1}}]},
{"width":132,"height":108,"data":{"name":"d"},"transform":[{"filter":"datum.g=='E'&&datum.p==3"}],"encoding":{"x":{"field":"t","type":"quantitative","scale":{"domain":[0,18],"nice":false},"axis":{"title":["Years from","CD4⁺ 500","to 200"]}},"y":{"field":"s","type":"quantitative","scale":{"domain":[0,1]},"axis":{"labels":false,"title":null}}},"layer":[
 {"transform":[{"filter":"datum.k=='b'"}],"mark":{"type":"area","color":"#D9B1B1","opacity":1},"encoding":{"y2":{"field":"hi"}}},
 {"transform":[{"filter":"datum.k=='m'"}],"mark":{"type":"line","color":"#8B1A1A","strokeDash":[4,4],"strokeWidth":1.2,"interpolate":"monotone"}},
 {"transform":[{"filter":"datum.k=='k'"}],"mark":{"type":"line","color":"#8B1A1A","strokeWidth":1.3,"interpolate":"step-after"}},
 {"transform":[{"filter":"datum.k=='c'"}],"mark":{"type":"point","shape":"M-1,0L1,0M0,-1L0,1","filled":false,"size":50,"strokeWidth":1.1,"color":"#8B1A1A","opacity":1}}]},
{"width":132,"height":108,"data":{"name":"d"},"transform":[{"filter":"datum.g=='E'&&datum.p==4"}],"encoding":{"x":{"field":"t","type":"quantitative","scale":{"domain":[0,18],"nice":false},"axis":{"title":["Years from","CD4⁺ 200","to death"]}},"y":{"field":"s","type":"quantitative","scale":{"domain":[0,1]},"axis":{"labels":false,"title":null}}},"layer":[
 {"transform":[{"filter":"datum.k=='b'"}],"mark":{"type":"area","color":"#D9B1B1","opacity":1},"encoding":{"y2":{"field":"hi"}}},
 {"transform":[{"filter":"datum.k=='m'"}],"mark":{"type":"line","color":"#8B1A1A","strokeDash":[4,4],"strokeWidth":1.2,"interpolate":"monotone"}},
 {"transform":[{"filter":"datum.k=='k'"}],"mark":{"type":"line","color":"#8B1A1A","strokeWidth":1.3,"interpolate":"step-after"}},
 {"transform":[{"filter":"datum.k=='c'"}],"mark":{"type":"point","shape":"M-1,0L1,0M0,-1L0,1","filled":false,"size":50,"strokeWidth":1.1,"color":"#8B1A1A","opacity":1}}]}
]
}
